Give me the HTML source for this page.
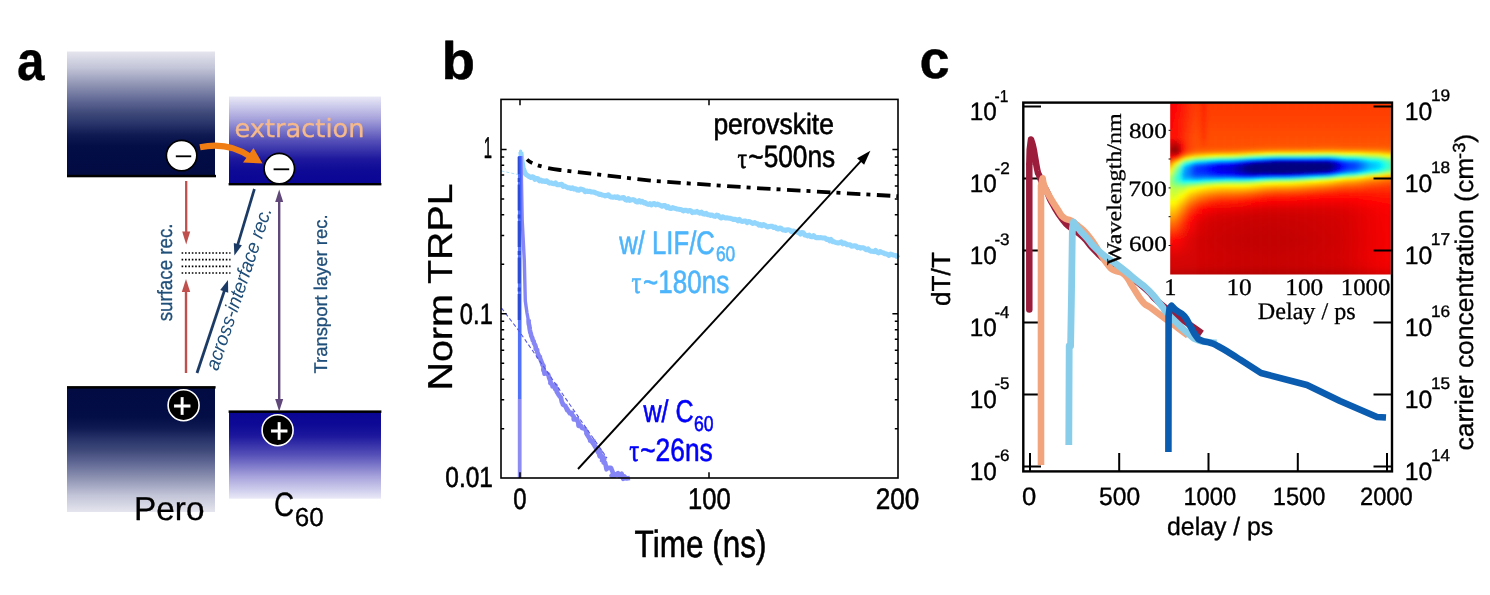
<!DOCTYPE html>
<html lang="en"><head><meta charset="utf-8"><title>Figure</title>
<style>html,body{margin:0;padding:0;background:#fff;overflow:hidden}svg{display:block;text-rendering:geometricPrecision;filter:blur(0.45px)}text{white-space:pre}</style></head>
<body><svg width="1490" height="595" viewBox="0 0 1490 595">
<defs><linearGradient id="gA" x1="0" y1="0" x2="0" y2="1">
<stop offset="0" stop-color="#e5e5ee"/><stop offset="0.13" stop-color="#c3c5d8"/><stop offset="0.27" stop-color="#8e93b3"/><stop offset="0.41" stop-color="#5a6290"/><stop offset="0.50" stop-color="#3d4878"/><stop offset="0.58" stop-color="#28346a"/><stop offset="0.67" stop-color="#0f1a52"/><stop offset="0.76" stop-color="#030d46"/><stop offset="1" stop-color="#020b42"/></linearGradient>
<linearGradient id="gB" x1="0" y1="0" x2="0" y2="1">
<stop offset="0" stop-color="#e9e9f7"/><stop offset="0.25" stop-color="#a8a4dc"/><stop offset="0.5" stop-color="#5651b8"/><stop offset="0.72" stop-color="#1c179c"/><stop offset="0.85" stop-color="#0e0a96"/><stop offset="1" stop-color="#0a0694"/></linearGradient>
<linearGradient id="gC" x1="0" y1="1" x2="0" y2="0">
<stop offset="0" stop-color="#e5e5ee"/><stop offset="0.13" stop-color="#c3c5d8"/><stop offset="0.27" stop-color="#8e93b3"/><stop offset="0.41" stop-color="#5a6290"/><stop offset="0.50" stop-color="#3d4878"/><stop offset="0.58" stop-color="#28346a"/><stop offset="0.67" stop-color="#0f1a52"/><stop offset="0.76" stop-color="#030d46"/><stop offset="1" stop-color="#020b42"/></linearGradient>
<linearGradient id="gD" x1="0" y1="1" x2="0" y2="0">
<stop offset="0" stop-color="#e9e9f7"/><stop offset="0.25" stop-color="#a8a4dc"/><stop offset="0.5" stop-color="#5651b8"/><stop offset="0.72" stop-color="#1c179c"/><stop offset="0.85" stop-color="#0e0a96"/><stop offset="1" stop-color="#0a0694"/></linearGradient><linearGradient id="h0" x1="0" y1="0" x2="0" y2="1"><stop offset="0.033" stop-color="#fa0000"/><stop offset="0.126" stop-color="#ff0400"/><stop offset="0.220" stop-color="#ff0900"/><stop offset="0.266" stop-color="#d30000"/><stop offset="0.285" stop-color="#c10000"/><stop offset="0.297" stop-color="#c50000"/><stop offset="0.308" stop-color="#d70000"/><stop offset="0.320" stop-color="#f10000"/><stop offset="0.332" stop-color="#ff1200"/><stop offset="0.343" stop-color="#ff3600"/><stop offset="0.355" stop-color="#ff5f00"/><stop offset="0.367" stop-color="#ff8800"/><stop offset="0.379" stop-color="#ffaf00"/><stop offset="0.390" stop-color="#ffd100"/><stop offset="0.402" stop-color="#fff000"/><stop offset="0.414" stop-color="#efff10"/><stop offset="0.425" stop-color="#d3ff2c"/><stop offset="0.437" stop-color="#bdff42"/><stop offset="0.449" stop-color="#aeff51"/><stop offset="0.460" stop-color="#a9ff56"/><stop offset="0.472" stop-color="#aeff51"/><stop offset="0.484" stop-color="#bbff44"/><stop offset="0.495" stop-color="#c6ff39"/><stop offset="0.507" stop-color="#ceff31"/><stop offset="0.519" stop-color="#d5ff2a"/><stop offset="0.530" stop-color="#dcff23"/><stop offset="0.542" stop-color="#e4ff1b"/><stop offset="0.554" stop-color="#eeff11"/><stop offset="0.575" stop-color="#fffc00"/><stop offset="0.612" stop-color="#ffd000"/><stop offset="0.650" stop-color="#ffa200"/><stop offset="0.687" stop-color="#ff7300"/><stop offset="0.780" stop-color="#ff0900"/><stop offset="0.874" stop-color="#da0000"/><stop offset="0.921" stop-color="#d50000"/><stop offset="0.967" stop-color="#be0000"/></linearGradient><linearGradient id="h1" x1="0" y1="0" x2="0" y2="1"><stop offset="0.033" stop-color="#fa0000"/><stop offset="0.126" stop-color="#ff0400"/><stop offset="0.220" stop-color="#ff0900"/><stop offset="0.266" stop-color="#d30000"/><stop offset="0.285" stop-color="#c10000"/><stop offset="0.297" stop-color="#c50000"/><stop offset="0.308" stop-color="#d70000"/><stop offset="0.320" stop-color="#f10000"/><stop offset="0.332" stop-color="#ff1200"/><stop offset="0.343" stop-color="#ff3600"/><stop offset="0.355" stop-color="#ff5f00"/><stop offset="0.367" stop-color="#ff8800"/><stop offset="0.379" stop-color="#ffaf00"/><stop offset="0.390" stop-color="#ffd100"/><stop offset="0.402" stop-color="#fff000"/><stop offset="0.414" stop-color="#efff10"/><stop offset="0.425" stop-color="#d3ff2c"/><stop offset="0.437" stop-color="#bdff42"/><stop offset="0.449" stop-color="#aeff51"/><stop offset="0.460" stop-color="#a9ff56"/><stop offset="0.472" stop-color="#aeff51"/><stop offset="0.484" stop-color="#bbff44"/><stop offset="0.495" stop-color="#c6ff39"/><stop offset="0.507" stop-color="#ceff31"/><stop offset="0.519" stop-color="#d5ff2a"/><stop offset="0.530" stop-color="#dcff23"/><stop offset="0.542" stop-color="#e4ff1b"/><stop offset="0.554" stop-color="#eeff11"/><stop offset="0.575" stop-color="#fffc00"/><stop offset="0.612" stop-color="#ffd000"/><stop offset="0.650" stop-color="#ffa200"/><stop offset="0.687" stop-color="#ff7300"/><stop offset="0.780" stop-color="#ff0900"/><stop offset="0.874" stop-color="#da0000"/><stop offset="0.921" stop-color="#d50000"/><stop offset="0.967" stop-color="#be0000"/></linearGradient><linearGradient id="h2" x1="0" y1="0" x2="0" y2="1"><stop offset="0.033" stop-color="#fb0000"/><stop offset="0.126" stop-color="#ff0500"/><stop offset="0.220" stop-color="#ff0800"/><stop offset="0.266" stop-color="#ba0000"/><stop offset="0.285" stop-color="#a00000"/><stop offset="0.297" stop-color="#a60000"/><stop offset="0.308" stop-color="#be0000"/><stop offset="0.320" stop-color="#e40000"/><stop offset="0.332" stop-color="#ff1200"/><stop offset="0.343" stop-color="#ff4300"/><stop offset="0.355" stop-color="#ff7600"/><stop offset="0.367" stop-color="#ffa700"/><stop offset="0.379" stop-color="#ffd200"/><stop offset="0.390" stop-color="#fff600"/><stop offset="0.402" stop-color="#e9ff16"/><stop offset="0.414" stop-color="#cbff34"/><stop offset="0.425" stop-color="#b1ff4e"/><stop offset="0.437" stop-color="#9cff63"/><stop offset="0.449" stop-color="#91ff6e"/><stop offset="0.460" stop-color="#91ff6e"/><stop offset="0.472" stop-color="#9bff64"/><stop offset="0.484" stop-color="#acff53"/><stop offset="0.495" stop-color="#bbff44"/><stop offset="0.507" stop-color="#c5ff3a"/><stop offset="0.519" stop-color="#cdff32"/><stop offset="0.530" stop-color="#d5ff2a"/><stop offset="0.542" stop-color="#deff21"/><stop offset="0.554" stop-color="#e9ff16"/><stop offset="0.575" stop-color="#ffff00"/><stop offset="0.612" stop-color="#ffd100"/><stop offset="0.650" stop-color="#ffa100"/><stop offset="0.687" stop-color="#ff7200"/><stop offset="0.780" stop-color="#ff0800"/><stop offset="0.874" stop-color="#d90000"/><stop offset="0.921" stop-color="#d50000"/><stop offset="0.967" stop-color="#be0000"/></linearGradient><linearGradient id="h3" x1="0" y1="0" x2="0" y2="1"><stop offset="0.033" stop-color="#fd0000"/><stop offset="0.126" stop-color="#ff0700"/><stop offset="0.220" stop-color="#ff0900"/><stop offset="0.266" stop-color="#aa0000"/><stop offset="0.285" stop-color="#8b0000"/><stop offset="0.297" stop-color="#930000"/><stop offset="0.308" stop-color="#b30000"/><stop offset="0.320" stop-color="#e50000"/><stop offset="0.332" stop-color="#ff2300"/><stop offset="0.343" stop-color="#ff6500"/><stop offset="0.355" stop-color="#ffa900"/><stop offset="0.367" stop-color="#ffe700"/><stop offset="0.379" stop-color="#e5ff1a"/><stop offset="0.390" stop-color="#bfff40"/><stop offset="0.402" stop-color="#a1ff5e"/><stop offset="0.414" stop-color="#85ff7a"/><stop offset="0.425" stop-color="#6eff91"/><stop offset="0.437" stop-color="#5dffa2"/><stop offset="0.449" stop-color="#59ffa6"/><stop offset="0.460" stop-color="#63ff9c"/><stop offset="0.472" stop-color="#79ff86"/><stop offset="0.484" stop-color="#94ff6b"/><stop offset="0.495" stop-color="#a9ff56"/><stop offset="0.507" stop-color="#b7ff48"/><stop offset="0.519" stop-color="#c1ff3e"/><stop offset="0.530" stop-color="#cbff34"/><stop offset="0.542" stop-color="#d7ff28"/><stop offset="0.554" stop-color="#e4ff1b"/><stop offset="0.575" stop-color="#feff01"/><stop offset="0.612" stop-color="#ffcf00"/><stop offset="0.650" stop-color="#ff9d00"/><stop offset="0.687" stop-color="#ff6d00"/><stop offset="0.780" stop-color="#ff0500"/><stop offset="0.874" stop-color="#d90000"/><stop offset="0.921" stop-color="#d40000"/><stop offset="0.967" stop-color="#be0000"/></linearGradient><linearGradient id="h4" x1="0" y1="0" x2="0" y2="1"><stop offset="0.033" stop-color="#ff0200"/><stop offset="0.126" stop-color="#ff0b00"/><stop offset="0.220" stop-color="#ff0c00"/><stop offset="0.266" stop-color="#ab0000"/><stop offset="0.285" stop-color="#8c0000"/><stop offset="0.297" stop-color="#950000"/><stop offset="0.308" stop-color="#b80000"/><stop offset="0.320" stop-color="#f00000"/><stop offset="0.332" stop-color="#ff3600"/><stop offset="0.343" stop-color="#ff8300"/><stop offset="0.355" stop-color="#ffd100"/><stop offset="0.367" stop-color="#e7ff18"/><stop offset="0.379" stop-color="#b1ff4e"/><stop offset="0.390" stop-color="#8bff74"/><stop offset="0.402" stop-color="#6fff90"/><stop offset="0.414" stop-color="#56ffa9"/><stop offset="0.425" stop-color="#42ffbd"/><stop offset="0.437" stop-color="#36ffc9"/><stop offset="0.449" stop-color="#39ffc6"/><stop offset="0.460" stop-color="#4bffb4"/><stop offset="0.472" stop-color="#69ff96"/><stop offset="0.484" stop-color="#8cff73"/><stop offset="0.495" stop-color="#a6ff59"/><stop offset="0.507" stop-color="#b7ff48"/><stop offset="0.519" stop-color="#c3ff3c"/><stop offset="0.530" stop-color="#cfff30"/><stop offset="0.542" stop-color="#ddff22"/><stop offset="0.554" stop-color="#ebff14"/><stop offset="0.575" stop-color="#fff700"/><stop offset="0.612" stop-color="#ffc300"/><stop offset="0.650" stop-color="#ff9100"/><stop offset="0.687" stop-color="#ff6300"/><stop offset="0.780" stop-color="#ff0200"/><stop offset="0.874" stop-color="#d80000"/><stop offset="0.921" stop-color="#d40000"/><stop offset="0.967" stop-color="#bd0000"/></linearGradient><linearGradient id="h5" x1="0" y1="0" x2="0" y2="1"><stop offset="0.033" stop-color="#ff0700"/><stop offset="0.126" stop-color="#ff0f00"/><stop offset="0.220" stop-color="#ff1200"/><stop offset="0.266" stop-color="#be0000"/><stop offset="0.285" stop-color="#a40000"/><stop offset="0.297" stop-color="#ad0000"/><stop offset="0.308" stop-color="#ce0000"/><stop offset="0.320" stop-color="#ff0500"/><stop offset="0.332" stop-color="#ff4900"/><stop offset="0.343" stop-color="#ff9600"/><stop offset="0.355" stop-color="#ffe500"/><stop offset="0.367" stop-color="#d3ff2c"/><stop offset="0.379" stop-color="#9dff62"/><stop offset="0.390" stop-color="#7aff85"/><stop offset="0.402" stop-color="#61ff9e"/><stop offset="0.414" stop-color="#4cffb3"/><stop offset="0.425" stop-color="#3bffc4"/><stop offset="0.437" stop-color="#34ffcb"/><stop offset="0.449" stop-color="#3affc5"/><stop offset="0.460" stop-color="#51ffae"/><stop offset="0.472" stop-color="#74ff8b"/><stop offset="0.484" stop-color="#9aff65"/><stop offset="0.495" stop-color="#b6ff49"/><stop offset="0.507" stop-color="#c8ff37"/><stop offset="0.519" stop-color="#d6ff29"/><stop offset="0.530" stop-color="#e3ff1c"/><stop offset="0.542" stop-color="#f1ff0e"/><stop offset="0.554" stop-color="#fffe00"/><stop offset="0.575" stop-color="#ffe200"/><stop offset="0.612" stop-color="#ffaf00"/><stop offset="0.650" stop-color="#ff7f00"/><stop offset="0.687" stop-color="#ff5500"/><stop offset="0.780" stop-color="#fc0000"/><stop offset="0.874" stop-color="#d80000"/><stop offset="0.921" stop-color="#d40000"/><stop offset="0.967" stop-color="#bd0000"/></linearGradient><linearGradient id="h6" x1="0" y1="0" x2="0" y2="1"><stop offset="0.033" stop-color="#ff0c00"/><stop offset="0.126" stop-color="#ff1500"/><stop offset="0.220" stop-color="#ff1a00"/><stop offset="0.266" stop-color="#dd0000"/><stop offset="0.285" stop-color="#cb0000"/><stop offset="0.297" stop-color="#d50000"/><stop offset="0.308" stop-color="#f40000"/><stop offset="0.320" stop-color="#ff2a00"/><stop offset="0.332" stop-color="#ff7000"/><stop offset="0.343" stop-color="#ffc400"/><stop offset="0.355" stop-color="#e4ff1b"/><stop offset="0.367" stop-color="#97ff68"/><stop offset="0.379" stop-color="#5effa1"/><stop offset="0.390" stop-color="#3bffc4"/><stop offset="0.402" stop-color="#26ffd9"/><stop offset="0.414" stop-color="#15ffea"/><stop offset="0.425" stop-color="#09fff6"/><stop offset="0.437" stop-color="#08fff7"/><stop offset="0.449" stop-color="#17ffe8"/><stop offset="0.460" stop-color="#39ffc6"/><stop offset="0.472" stop-color="#67ff98"/><stop offset="0.484" stop-color="#95ff6a"/><stop offset="0.495" stop-color="#b8ff47"/><stop offset="0.507" stop-color="#cdff32"/><stop offset="0.519" stop-color="#ddff22"/><stop offset="0.530" stop-color="#edff12"/><stop offset="0.542" stop-color="#fdff02"/><stop offset="0.554" stop-color="#fff000"/><stop offset="0.575" stop-color="#ffd200"/><stop offset="0.612" stop-color="#ff9d00"/><stop offset="0.650" stop-color="#ff6e00"/><stop offset="0.687" stop-color="#ff4600"/><stop offset="0.780" stop-color="#f60000"/><stop offset="0.874" stop-color="#d80000"/><stop offset="0.921" stop-color="#d30000"/><stop offset="0.967" stop-color="#bd0000"/></linearGradient><linearGradient id="h7" x1="0" y1="0" x2="0" y2="1"><stop offset="0.033" stop-color="#ff1200"/><stop offset="0.126" stop-color="#ff1b00"/><stop offset="0.220" stop-color="#ff2200"/><stop offset="0.266" stop-color="#fd0000"/><stop offset="0.285" stop-color="#f40000"/><stop offset="0.297" stop-color="#ff0000"/><stop offset="0.308" stop-color="#ff1f00"/><stop offset="0.320" stop-color="#ff5400"/><stop offset="0.332" stop-color="#ff9f00"/><stop offset="0.343" stop-color="#fffc00"/><stop offset="0.355" stop-color="#a0ff5f"/><stop offset="0.367" stop-color="#4affb5"/><stop offset="0.379" stop-color="#0cfff3"/><stop offset="0.390" stop-color="#00e9ff"/><stop offset="0.402" stop-color="#00d8ff"/><stop offset="0.414" stop-color="#00cbff"/><stop offset="0.425" stop-color="#00c5ff"/><stop offset="0.437" stop-color="#00cbff"/><stop offset="0.449" stop-color="#00e5ff"/><stop offset="0.460" stop-color="#14ffeb"/><stop offset="0.472" stop-color="#50ffaf"/><stop offset="0.484" stop-color="#8aff75"/><stop offset="0.495" stop-color="#b3ff4c"/><stop offset="0.507" stop-color="#cdff32"/><stop offset="0.519" stop-color="#e0ff1f"/><stop offset="0.530" stop-color="#f3ff0c"/><stop offset="0.542" stop-color="#fff900"/><stop offset="0.554" stop-color="#ffe600"/><stop offset="0.575" stop-color="#ffc400"/><stop offset="0.612" stop-color="#ff8b00"/><stop offset="0.650" stop-color="#ff5d00"/><stop offset="0.687" stop-color="#ff3700"/><stop offset="0.780" stop-color="#f10000"/><stop offset="0.874" stop-color="#d70000"/><stop offset="0.921" stop-color="#d30000"/><stop offset="0.967" stop-color="#bd0000"/></linearGradient><linearGradient id="h8" x1="0" y1="0" x2="0" y2="1"><stop offset="0.033" stop-color="#ff1800"/><stop offset="0.126" stop-color="#ff2100"/><stop offset="0.220" stop-color="#ff2a00"/><stop offset="0.266" stop-color="#ff1800"/><stop offset="0.285" stop-color="#ff1600"/><stop offset="0.297" stop-color="#ff2300"/><stop offset="0.308" stop-color="#ff4100"/><stop offset="0.320" stop-color="#ff7700"/><stop offset="0.332" stop-color="#ffc700"/><stop offset="0.343" stop-color="#d2ff2d"/><stop offset="0.355" stop-color="#68ff97"/><stop offset="0.367" stop-color="#0bfff4"/><stop offset="0.379" stop-color="#00c9ff"/><stop offset="0.390" stop-color="#00a9ff"/><stop offset="0.402" stop-color="#009bff"/><stop offset="0.414" stop-color="#0093ff"/><stop offset="0.425" stop-color="#0091ff"/><stop offset="0.437" stop-color="#009fff"/><stop offset="0.449" stop-color="#00c1ff"/><stop offset="0.460" stop-color="#00fbff"/><stop offset="0.472" stop-color="#43ffbc"/><stop offset="0.484" stop-color="#85ff7a"/><stop offset="0.495" stop-color="#b4ff4b"/><stop offset="0.507" stop-color="#d1ff2e"/><stop offset="0.519" stop-color="#e7ff18"/><stop offset="0.530" stop-color="#fcff03"/><stop offset="0.542" stop-color="#ffee00"/><stop offset="0.554" stop-color="#ffd900"/><stop offset="0.575" stop-color="#ffb400"/><stop offset="0.612" stop-color="#ff7a00"/><stop offset="0.650" stop-color="#ff4c00"/><stop offset="0.687" stop-color="#ff2900"/><stop offset="0.780" stop-color="#eb0000"/><stop offset="0.874" stop-color="#d70000"/><stop offset="0.921" stop-color="#d30000"/><stop offset="0.967" stop-color="#bc0000"/></linearGradient><linearGradient id="h9" x1="0" y1="0" x2="0" y2="1"><stop offset="0.033" stop-color="#ff1f00"/><stop offset="0.126" stop-color="#ff2800"/><stop offset="0.220" stop-color="#ff3200"/><stop offset="0.266" stop-color="#ff2a00"/><stop offset="0.285" stop-color="#ff2d00"/><stop offset="0.297" stop-color="#ff3a00"/><stop offset="0.308" stop-color="#ff5700"/><stop offset="0.320" stop-color="#ff8d00"/><stop offset="0.332" stop-color="#ffdc00"/><stop offset="0.343" stop-color="#bcff43"/><stop offset="0.355" stop-color="#51ffae"/><stop offset="0.367" stop-color="#00f4ff"/><stop offset="0.379" stop-color="#00b6ff"/><stop offset="0.390" stop-color="#0098ff"/><stop offset="0.402" stop-color="#008fff"/><stop offset="0.414" stop-color="#0089ff"/><stop offset="0.425" stop-color="#008cff"/><stop offset="0.437" stop-color="#009eff"/><stop offset="0.449" stop-color="#00c6ff"/><stop offset="0.460" stop-color="#06fff9"/><stop offset="0.472" stop-color="#51ffae"/><stop offset="0.484" stop-color="#95ff6a"/><stop offset="0.495" stop-color="#c5ff3a"/><stop offset="0.507" stop-color="#e4ff1b"/><stop offset="0.519" stop-color="#fbff04"/><stop offset="0.530" stop-color="#ffee00"/><stop offset="0.542" stop-color="#ffd900"/><stop offset="0.554" stop-color="#ffc300"/><stop offset="0.575" stop-color="#ff9e00"/><stop offset="0.612" stop-color="#ff6400"/><stop offset="0.650" stop-color="#ff3900"/><stop offset="0.687" stop-color="#ff1a00"/><stop offset="0.780" stop-color="#e60000"/><stop offset="0.874" stop-color="#d60000"/><stop offset="0.921" stop-color="#d20000"/><stop offset="0.967" stop-color="#bc0000"/></linearGradient><linearGradient id="h10" x1="0" y1="0" x2="0" y2="1"><stop offset="0.033" stop-color="#ff2500"/><stop offset="0.126" stop-color="#ff2e00"/><stop offset="0.220" stop-color="#ff3900"/><stop offset="0.266" stop-color="#ff3700"/><stop offset="0.285" stop-color="#ff3c00"/><stop offset="0.297" stop-color="#ff4900"/><stop offset="0.308" stop-color="#ff6600"/><stop offset="0.320" stop-color="#ff9c00"/><stop offset="0.332" stop-color="#ffee00"/><stop offset="0.343" stop-color="#aaff55"/><stop offset="0.355" stop-color="#3effc1"/><stop offset="0.367" stop-color="#00e1ff"/><stop offset="0.379" stop-color="#00a6ff"/><stop offset="0.390" stop-color="#008cff"/><stop offset="0.402" stop-color="#0085ff"/><stop offset="0.414" stop-color="#0083ff"/><stop offset="0.425" stop-color="#0089ff"/><stop offset="0.437" stop-color="#009fff"/><stop offset="0.449" stop-color="#00ccff"/><stop offset="0.460" stop-color="#10ffef"/><stop offset="0.472" stop-color="#5fffa0"/><stop offset="0.484" stop-color="#a5ff5a"/><stop offset="0.495" stop-color="#d6ff29"/><stop offset="0.507" stop-color="#f5ff0a"/><stop offset="0.519" stop-color="#fff100"/><stop offset="0.530" stop-color="#ffdb00"/><stop offset="0.542" stop-color="#ffc500"/><stop offset="0.554" stop-color="#ffaf00"/><stop offset="0.575" stop-color="#ff8a00"/><stop offset="0.612" stop-color="#ff5100"/><stop offset="0.650" stop-color="#ff2800"/><stop offset="0.687" stop-color="#ff0d00"/><stop offset="0.780" stop-color="#e20000"/><stop offset="0.874" stop-color="#d60000"/><stop offset="0.921" stop-color="#d20000"/><stop offset="0.967" stop-color="#bc0000"/></linearGradient><linearGradient id="h11" x1="0" y1="0" x2="0" y2="1"><stop offset="0.033" stop-color="#ff2b00"/><stop offset="0.126" stop-color="#ff3300"/><stop offset="0.220" stop-color="#ff3f00"/><stop offset="0.266" stop-color="#ff3f00"/><stop offset="0.285" stop-color="#ff4500"/><stop offset="0.297" stop-color="#ff5300"/><stop offset="0.308" stop-color="#ff7300"/><stop offset="0.320" stop-color="#ffac00"/><stop offset="0.332" stop-color="#fdff02"/><stop offset="0.343" stop-color="#92ff6d"/><stop offset="0.355" stop-color="#23ffdc"/><stop offset="0.367" stop-color="#00c5ff"/><stop offset="0.379" stop-color="#008aff"/><stop offset="0.390" stop-color="#0072ff"/><stop offset="0.402" stop-color="#006eff"/><stop offset="0.414" stop-color="#006fff"/><stop offset="0.425" stop-color="#0079ff"/><stop offset="0.437" stop-color="#0093ff"/><stop offset="0.449" stop-color="#00c5ff"/><stop offset="0.460" stop-color="#0ffff0"/><stop offset="0.472" stop-color="#63ff9c"/><stop offset="0.484" stop-color="#acff53"/><stop offset="0.495" stop-color="#dfff20"/><stop offset="0.507" stop-color="#ffff00"/><stop offset="0.519" stop-color="#ffe600"/><stop offset="0.530" stop-color="#ffce00"/><stop offset="0.542" stop-color="#ffb700"/><stop offset="0.554" stop-color="#ffa100"/><stop offset="0.575" stop-color="#ff7b00"/><stop offset="0.612" stop-color="#ff4200"/><stop offset="0.650" stop-color="#ff1a00"/><stop offset="0.687" stop-color="#ff0100"/><stop offset="0.780" stop-color="#de0000"/><stop offset="0.874" stop-color="#d50000"/><stop offset="0.921" stop-color="#d20000"/><stop offset="0.967" stop-color="#bc0000"/></linearGradient><linearGradient id="h12" x1="0" y1="0" x2="0" y2="1"><stop offset="0.033" stop-color="#ff3000"/><stop offset="0.126" stop-color="#ff3900"/><stop offset="0.220" stop-color="#ff4400"/><stop offset="0.266" stop-color="#ff4500"/><stop offset="0.285" stop-color="#ff4c00"/><stop offset="0.297" stop-color="#ff5b00"/><stop offset="0.308" stop-color="#ff7d00"/><stop offset="0.320" stop-color="#ffba00"/><stop offset="0.332" stop-color="#e9ff16"/><stop offset="0.343" stop-color="#78ff87"/><stop offset="0.355" stop-color="#05fffa"/><stop offset="0.367" stop-color="#00a4ff"/><stop offset="0.379" stop-color="#0069ff"/><stop offset="0.390" stop-color="#0054ff"/><stop offset="0.402" stop-color="#0052ff"/><stop offset="0.414" stop-color="#0055ff"/><stop offset="0.425" stop-color="#0063ff"/><stop offset="0.437" stop-color="#0081ff"/><stop offset="0.449" stop-color="#00b9ff"/><stop offset="0.460" stop-color="#09fff6"/><stop offset="0.472" stop-color="#62ff9d"/><stop offset="0.484" stop-color="#afff50"/><stop offset="0.495" stop-color="#e4ff1b"/><stop offset="0.507" stop-color="#fff900"/><stop offset="0.519" stop-color="#ffde00"/><stop offset="0.530" stop-color="#ffc600"/><stop offset="0.542" stop-color="#ffae00"/><stop offset="0.554" stop-color="#ff9600"/><stop offset="0.575" stop-color="#ff6f00"/><stop offset="0.612" stop-color="#ff3500"/><stop offset="0.650" stop-color="#ff0f00"/><stop offset="0.687" stop-color="#f70000"/><stop offset="0.780" stop-color="#da0000"/><stop offset="0.874" stop-color="#d50000"/><stop offset="0.921" stop-color="#d10000"/><stop offset="0.967" stop-color="#bb0000"/></linearGradient><linearGradient id="h13" x1="0" y1="0" x2="0" y2="1"><stop offset="0.033" stop-color="#ff3400"/><stop offset="0.126" stop-color="#ff3d00"/><stop offset="0.220" stop-color="#ff4800"/><stop offset="0.266" stop-color="#ff4900"/><stop offset="0.285" stop-color="#ff5100"/><stop offset="0.297" stop-color="#ff6200"/><stop offset="0.308" stop-color="#ff8600"/><stop offset="0.320" stop-color="#ffc700"/><stop offset="0.332" stop-color="#d7ff28"/><stop offset="0.343" stop-color="#61ff9e"/><stop offset="0.355" stop-color="#00e9ff"/><stop offset="0.367" stop-color="#0088ff"/><stop offset="0.379" stop-color="#004dff"/><stop offset="0.390" stop-color="#003aff"/><stop offset="0.402" stop-color="#003aff"/><stop offset="0.414" stop-color="#003fff"/><stop offset="0.425" stop-color="#004fff"/><stop offset="0.437" stop-color="#0072ff"/><stop offset="0.449" stop-color="#00aeff"/><stop offset="0.460" stop-color="#04fffb"/><stop offset="0.472" stop-color="#62ff9d"/><stop offset="0.484" stop-color="#b1ff4e"/><stop offset="0.495" stop-color="#e7ff18"/><stop offset="0.507" stop-color="#fff400"/><stop offset="0.519" stop-color="#ffd800"/><stop offset="0.530" stop-color="#ffbe00"/><stop offset="0.542" stop-color="#ffa500"/><stop offset="0.554" stop-color="#ff8d00"/><stop offset="0.575" stop-color="#ff6500"/><stop offset="0.612" stop-color="#ff2b00"/><stop offset="0.650" stop-color="#ff0600"/><stop offset="0.687" stop-color="#f00000"/><stop offset="0.780" stop-color="#d80000"/><stop offset="0.874" stop-color="#d40000"/><stop offset="0.921" stop-color="#d10000"/><stop offset="0.967" stop-color="#bb0000"/></linearGradient><linearGradient id="h14" x1="0" y1="0" x2="0" y2="1"><stop offset="0.033" stop-color="#ff3700"/><stop offset="0.126" stop-color="#ff3f00"/><stop offset="0.220" stop-color="#ff4b00"/><stop offset="0.266" stop-color="#ff4c00"/><stop offset="0.285" stop-color="#ff5500"/><stop offset="0.297" stop-color="#ff6600"/><stop offset="0.308" stop-color="#ff8c00"/><stop offset="0.320" stop-color="#ffd000"/><stop offset="0.332" stop-color="#cbff34"/><stop offset="0.343" stop-color="#52ffad"/><stop offset="0.355" stop-color="#00d8ff"/><stop offset="0.367" stop-color="#0077ff"/><stop offset="0.379" stop-color="#003eff"/><stop offset="0.390" stop-color="#002cff"/><stop offset="0.402" stop-color="#002dff"/><stop offset="0.414" stop-color="#0034ff"/><stop offset="0.425" stop-color="#0047ff"/><stop offset="0.437" stop-color="#006cff"/><stop offset="0.449" stop-color="#00adff"/><stop offset="0.460" stop-color="#07fff8"/><stop offset="0.472" stop-color="#67ff98"/><stop offset="0.484" stop-color="#b8ff47"/><stop offset="0.495" stop-color="#eeff11"/><stop offset="0.507" stop-color="#ffed00"/><stop offset="0.519" stop-color="#ffd100"/><stop offset="0.530" stop-color="#ffb600"/><stop offset="0.542" stop-color="#ff9c00"/><stop offset="0.554" stop-color="#ff8400"/><stop offset="0.575" stop-color="#ff5b00"/><stop offset="0.612" stop-color="#ff2100"/><stop offset="0.650" stop-color="#fc0000"/><stop offset="0.687" stop-color="#e90000"/><stop offset="0.780" stop-color="#d50000"/><stop offset="0.874" stop-color="#d40000"/><stop offset="0.921" stop-color="#d10000"/><stop offset="0.967" stop-color="#bb0000"/></linearGradient><linearGradient id="h15" x1="0" y1="0" x2="0" y2="1"><stop offset="0.033" stop-color="#ff3500"/><stop offset="0.126" stop-color="#ff3e00"/><stop offset="0.220" stop-color="#ff4900"/><stop offset="0.266" stop-color="#ff4d00"/><stop offset="0.285" stop-color="#ff5700"/><stop offset="0.297" stop-color="#ff6a00"/><stop offset="0.308" stop-color="#ff9200"/><stop offset="0.320" stop-color="#ffd800"/><stop offset="0.332" stop-color="#c0ff3f"/><stop offset="0.343" stop-color="#46ffb9"/><stop offset="0.355" stop-color="#00cdff"/><stop offset="0.367" stop-color="#006fff"/><stop offset="0.379" stop-color="#0039ff"/><stop offset="0.390" stop-color="#002bff"/><stop offset="0.402" stop-color="#002dff"/><stop offset="0.414" stop-color="#0036ff"/><stop offset="0.425" stop-color="#004bff"/><stop offset="0.437" stop-color="#0075ff"/><stop offset="0.449" stop-color="#00baff"/><stop offset="0.460" stop-color="#18ffe7"/><stop offset="0.472" stop-color="#79ff86"/><stop offset="0.484" stop-color="#c9ff36"/><stop offset="0.495" stop-color="#fdff02"/><stop offset="0.507" stop-color="#ffde00"/><stop offset="0.519" stop-color="#ffc200"/><stop offset="0.530" stop-color="#ffa600"/><stop offset="0.542" stop-color="#ff8c00"/><stop offset="0.554" stop-color="#ff7400"/><stop offset="0.575" stop-color="#ff4b00"/><stop offset="0.612" stop-color="#ff1400"/><stop offset="0.650" stop-color="#f20000"/><stop offset="0.687" stop-color="#e10000"/><stop offset="0.780" stop-color="#d20000"/><stop offset="0.874" stop-color="#d30000"/><stop offset="0.921" stop-color="#d00000"/><stop offset="0.967" stop-color="#ba0000"/></linearGradient><linearGradient id="h16" x1="0" y1="0" x2="0" y2="1"><stop offset="0.033" stop-color="#ff1c00"/><stop offset="0.126" stop-color="#ff2400"/><stop offset="0.220" stop-color="#ff2f00"/><stop offset="0.266" stop-color="#ff4500"/><stop offset="0.285" stop-color="#ff5700"/><stop offset="0.297" stop-color="#ff6d00"/><stop offset="0.308" stop-color="#ff9900"/><stop offset="0.320" stop-color="#ffe300"/><stop offset="0.332" stop-color="#b1ff4e"/><stop offset="0.343" stop-color="#34ffcb"/><stop offset="0.355" stop-color="#00baff"/><stop offset="0.367" stop-color="#005fff"/><stop offset="0.379" stop-color="#002dff"/><stop offset="0.390" stop-color="#0022ff"/><stop offset="0.402" stop-color="#0026ff"/><stop offset="0.414" stop-color="#0031ff"/><stop offset="0.425" stop-color="#0049ff"/><stop offset="0.437" stop-color="#0079ff"/><stop offset="0.449" stop-color="#00c5ff"/><stop offset="0.460" stop-color="#28ffd7"/><stop offset="0.472" stop-color="#8cff73"/><stop offset="0.484" stop-color="#daff25"/><stop offset="0.495" stop-color="#fff200"/><stop offset="0.507" stop-color="#ffd000"/><stop offset="0.519" stop-color="#ffb300"/><stop offset="0.530" stop-color="#ff9700"/><stop offset="0.542" stop-color="#ff7d00"/><stop offset="0.554" stop-color="#ff6400"/><stop offset="0.575" stop-color="#ff3c00"/><stop offset="0.612" stop-color="#ff0600"/><stop offset="0.650" stop-color="#e80000"/><stop offset="0.687" stop-color="#db0000"/><stop offset="0.780" stop-color="#d00000"/><stop offset="0.874" stop-color="#d20000"/><stop offset="0.921" stop-color="#cf0000"/><stop offset="0.967" stop-color="#ba0000"/></linearGradient><linearGradient id="h17" x1="0" y1="0" x2="0" y2="1"><stop offset="0.033" stop-color="#ff3800"/><stop offset="0.126" stop-color="#ff4000"/><stop offset="0.220" stop-color="#ff4c00"/><stop offset="0.266" stop-color="#ff4e00"/><stop offset="0.285" stop-color="#ff5a00"/><stop offset="0.297" stop-color="#ff7100"/><stop offset="0.308" stop-color="#ffa000"/><stop offset="0.320" stop-color="#ffef00"/><stop offset="0.332" stop-color="#9fff60"/><stop offset="0.343" stop-color="#1fffe0"/><stop offset="0.355" stop-color="#00a4ff"/><stop offset="0.367" stop-color="#0049ff"/><stop offset="0.379" stop-color="#001aff"/><stop offset="0.390" stop-color="#0011ff"/><stop offset="0.402" stop-color="#0016ff"/><stop offset="0.414" stop-color="#0023ff"/><stop offset="0.425" stop-color="#0040ff"/><stop offset="0.437" stop-color="#0076ff"/><stop offset="0.449" stop-color="#00caff"/><stop offset="0.460" stop-color="#34ffcb"/><stop offset="0.472" stop-color="#9aff65"/><stop offset="0.484" stop-color="#e6ff19"/><stop offset="0.495" stop-color="#ffe800"/><stop offset="0.507" stop-color="#ffc600"/><stop offset="0.519" stop-color="#ffa800"/><stop offset="0.530" stop-color="#ff8b00"/><stop offset="0.542" stop-color="#ff7000"/><stop offset="0.554" stop-color="#ff5700"/><stop offset="0.575" stop-color="#ff3000"/><stop offset="0.612" stop-color="#fc0000"/><stop offset="0.650" stop-color="#e10000"/><stop offset="0.687" stop-color="#d60000"/><stop offset="0.780" stop-color="#ce0000"/><stop offset="0.874" stop-color="#d10000"/><stop offset="0.921" stop-color="#ce0000"/><stop offset="0.967" stop-color="#b90000"/></linearGradient><linearGradient id="h18" x1="0" y1="0" x2="0" y2="1"><stop offset="0.033" stop-color="#ff3800"/><stop offset="0.126" stop-color="#ff4100"/><stop offset="0.220" stop-color="#ff4c00"/><stop offset="0.266" stop-color="#ff4f00"/><stop offset="0.285" stop-color="#ff5b00"/><stop offset="0.297" stop-color="#ff7500"/><stop offset="0.308" stop-color="#ffa700"/><stop offset="0.320" stop-color="#fffc00"/><stop offset="0.332" stop-color="#8eff71"/><stop offset="0.343" stop-color="#09fff6"/><stop offset="0.355" stop-color="#008dff"/><stop offset="0.367" stop-color="#0033ff"/><stop offset="0.379" stop-color="#0006ff"/><stop offset="0.390" stop-color="#0000fe"/><stop offset="0.402" stop-color="#0004ff"/><stop offset="0.414" stop-color="#0013ff"/><stop offset="0.425" stop-color="#0034ff"/><stop offset="0.437" stop-color="#0071ff"/><stop offset="0.449" stop-color="#00ceff"/><stop offset="0.460" stop-color="#3fffc0"/><stop offset="0.472" stop-color="#a7ff58"/><stop offset="0.484" stop-color="#f0ff0f"/><stop offset="0.495" stop-color="#ffe000"/><stop offset="0.507" stop-color="#ffbd00"/><stop offset="0.519" stop-color="#ff9f00"/><stop offset="0.530" stop-color="#ff8100"/><stop offset="0.542" stop-color="#ff6600"/><stop offset="0.554" stop-color="#ff4d00"/><stop offset="0.575" stop-color="#ff2600"/><stop offset="0.612" stop-color="#f50000"/><stop offset="0.650" stop-color="#dd0000"/><stop offset="0.687" stop-color="#d30000"/><stop offset="0.780" stop-color="#cc0000"/><stop offset="0.874" stop-color="#d00000"/><stop offset="0.921" stop-color="#cd0000"/><stop offset="0.967" stop-color="#b90000"/></linearGradient><linearGradient id="h19" x1="0" y1="0" x2="0" y2="1"><stop offset="0.033" stop-color="#ff3800"/><stop offset="0.126" stop-color="#ff4100"/><stop offset="0.220" stop-color="#ff4c00"/><stop offset="0.266" stop-color="#ff4f00"/><stop offset="0.285" stop-color="#ff5d00"/><stop offset="0.297" stop-color="#ff7800"/><stop offset="0.308" stop-color="#ffae00"/><stop offset="0.320" stop-color="#f8ff07"/><stop offset="0.332" stop-color="#7fff80"/><stop offset="0.343" stop-color="#00f5ff"/><stop offset="0.355" stop-color="#0078ff"/><stop offset="0.367" stop-color="#001fff"/><stop offset="0.379" stop-color="#0000f2"/><stop offset="0.390" stop-color="#0000ec"/><stop offset="0.402" stop-color="#0000f3"/><stop offset="0.414" stop-color="#0005ff"/><stop offset="0.425" stop-color="#002aff"/><stop offset="0.437" stop-color="#006eff"/><stop offset="0.449" stop-color="#00d3ff"/><stop offset="0.460" stop-color="#4affb5"/><stop offset="0.472" stop-color="#b2ff4d"/><stop offset="0.484" stop-color="#f8ff07"/><stop offset="0.495" stop-color="#ffd900"/><stop offset="0.507" stop-color="#ffb600"/><stop offset="0.519" stop-color="#ff9700"/><stop offset="0.530" stop-color="#ff7900"/><stop offset="0.542" stop-color="#ff5e00"/><stop offset="0.554" stop-color="#ff4500"/><stop offset="0.575" stop-color="#ff1f00"/><stop offset="0.612" stop-color="#f00000"/><stop offset="0.650" stop-color="#d90000"/><stop offset="0.687" stop-color="#d10000"/><stop offset="0.780" stop-color="#cb0000"/><stop offset="0.874" stop-color="#cf0000"/><stop offset="0.921" stop-color="#cd0000"/><stop offset="0.967" stop-color="#b80000"/></linearGradient><linearGradient id="h20" x1="0" y1="0" x2="0" y2="1"><stop offset="0.033" stop-color="#ff3800"/><stop offset="0.126" stop-color="#ff4100"/><stop offset="0.220" stop-color="#ff4c00"/><stop offset="0.266" stop-color="#ff4f00"/><stop offset="0.285" stop-color="#ff5e00"/><stop offset="0.297" stop-color="#ff7a00"/><stop offset="0.308" stop-color="#ffb200"/><stop offset="0.320" stop-color="#f1ff0e"/><stop offset="0.332" stop-color="#75ff8a"/><stop offset="0.343" stop-color="#00e9ff"/><stop offset="0.355" stop-color="#006bff"/><stop offset="0.367" stop-color="#0011ff"/><stop offset="0.379" stop-color="#0000e6"/><stop offset="0.390" stop-color="#0000e0"/><stop offset="0.402" stop-color="#0000e7"/><stop offset="0.414" stop-color="#0000fa"/><stop offset="0.425" stop-color="#0024ff"/><stop offset="0.437" stop-color="#006dff"/><stop offset="0.449" stop-color="#00d9ff"/><stop offset="0.460" stop-color="#53ffac"/><stop offset="0.472" stop-color="#baff45"/><stop offset="0.484" stop-color="#feff01"/><stop offset="0.495" stop-color="#ffd400"/><stop offset="0.507" stop-color="#ffb200"/><stop offset="0.519" stop-color="#ff9200"/><stop offset="0.530" stop-color="#ff7400"/><stop offset="0.542" stop-color="#ff5800"/><stop offset="0.554" stop-color="#ff4000"/><stop offset="0.575" stop-color="#ff1a00"/><stop offset="0.612" stop-color="#ec0000"/><stop offset="0.650" stop-color="#d70000"/><stop offset="0.687" stop-color="#cf0000"/><stop offset="0.780" stop-color="#ca0000"/><stop offset="0.874" stop-color="#ce0000"/><stop offset="0.921" stop-color="#cc0000"/><stop offset="0.967" stop-color="#b70000"/></linearGradient><linearGradient id="h21" x1="0" y1="0" x2="0" y2="1"><stop offset="0.033" stop-color="#ff3800"/><stop offset="0.126" stop-color="#ff4100"/><stop offset="0.220" stop-color="#ff4c00"/><stop offset="0.266" stop-color="#ff4f00"/><stop offset="0.285" stop-color="#ff5e00"/><stop offset="0.297" stop-color="#ff7b00"/><stop offset="0.308" stop-color="#ffb300"/><stop offset="0.320" stop-color="#efff10"/><stop offset="0.332" stop-color="#72ff8d"/><stop offset="0.343" stop-color="#00e5ff"/><stop offset="0.355" stop-color="#0067ff"/><stop offset="0.367" stop-color="#000dff"/><stop offset="0.379" stop-color="#0000e2"/><stop offset="0.390" stop-color="#0000dd"/><stop offset="0.402" stop-color="#0000e4"/><stop offset="0.414" stop-color="#0000f7"/><stop offset="0.425" stop-color="#0023ff"/><stop offset="0.437" stop-color="#0070ff"/><stop offset="0.449" stop-color="#00dfff"/><stop offset="0.460" stop-color="#5bffa4"/><stop offset="0.472" stop-color="#c0ff3f"/><stop offset="0.484" stop-color="#fffd00"/><stop offset="0.495" stop-color="#ffd300"/><stop offset="0.507" stop-color="#ffb000"/><stop offset="0.519" stop-color="#ff9000"/><stop offset="0.530" stop-color="#ff7200"/><stop offset="0.542" stop-color="#ff5700"/><stop offset="0.554" stop-color="#ff3e00"/><stop offset="0.575" stop-color="#ff1900"/><stop offset="0.612" stop-color="#eb0000"/><stop offset="0.650" stop-color="#d60000"/><stop offset="0.687" stop-color="#ce0000"/><stop offset="0.780" stop-color="#c80000"/><stop offset="0.874" stop-color="#cd0000"/><stop offset="0.921" stop-color="#cb0000"/><stop offset="0.967" stop-color="#b70000"/></linearGradient><linearGradient id="h22" x1="0" y1="0" x2="0" y2="1"><stop offset="0.033" stop-color="#ff3800"/><stop offset="0.126" stop-color="#ff4100"/><stop offset="0.220" stop-color="#ff4c00"/><stop offset="0.266" stop-color="#ff4f00"/><stop offset="0.285" stop-color="#ff5f00"/><stop offset="0.297" stop-color="#ff7c00"/><stop offset="0.308" stop-color="#ffb600"/><stop offset="0.320" stop-color="#eaff15"/><stop offset="0.332" stop-color="#6bff94"/><stop offset="0.343" stop-color="#00ddff"/><stop offset="0.355" stop-color="#005dff"/><stop offset="0.367" stop-color="#0004ff"/><stop offset="0.379" stop-color="#0000d9"/><stop offset="0.390" stop-color="#0000d4"/><stop offset="0.402" stop-color="#0000db"/><stop offset="0.414" stop-color="#0000f0"/><stop offset="0.425" stop-color="#001dff"/><stop offset="0.437" stop-color="#006dff"/><stop offset="0.449" stop-color="#00e0ff"/><stop offset="0.460" stop-color="#5effa1"/><stop offset="0.472" stop-color="#c2ff3d"/><stop offset="0.484" stop-color="#fffd00"/><stop offset="0.495" stop-color="#ffd300"/><stop offset="0.507" stop-color="#ffb000"/><stop offset="0.519" stop-color="#ff9000"/><stop offset="0.530" stop-color="#ff7100"/><stop offset="0.542" stop-color="#ff5600"/><stop offset="0.554" stop-color="#ff3d00"/><stop offset="0.575" stop-color="#ff1800"/><stop offset="0.612" stop-color="#ea0000"/><stop offset="0.650" stop-color="#d50000"/><stop offset="0.687" stop-color="#cd0000"/><stop offset="0.780" stop-color="#c70000"/><stop offset="0.874" stop-color="#cc0000"/><stop offset="0.921" stop-color="#ca0000"/><stop offset="0.967" stop-color="#b60000"/></linearGradient><linearGradient id="h23" x1="0" y1="0" x2="0" y2="1"><stop offset="0.033" stop-color="#ff3800"/><stop offset="0.126" stop-color="#ff4100"/><stop offset="0.220" stop-color="#ff4c00"/><stop offset="0.266" stop-color="#ff4f00"/><stop offset="0.285" stop-color="#ff6000"/><stop offset="0.297" stop-color="#ff7f00"/><stop offset="0.308" stop-color="#ffbb00"/><stop offset="0.320" stop-color="#e1ff1e"/><stop offset="0.332" stop-color="#5effa1"/><stop offset="0.343" stop-color="#00ccff"/><stop offset="0.355" stop-color="#004bff"/><stop offset="0.367" stop-color="#0000ef"/><stop offset="0.379" stop-color="#0000c6"/><stop offset="0.390" stop-color="#0000c2"/><stop offset="0.402" stop-color="#0000ca"/><stop offset="0.414" stop-color="#0000e0"/><stop offset="0.425" stop-color="#0010ff"/><stop offset="0.437" stop-color="#0065ff"/><stop offset="0.449" stop-color="#00ddff"/><stop offset="0.460" stop-color="#5effa1"/><stop offset="0.472" stop-color="#c2ff3d"/><stop offset="0.484" stop-color="#fffd00"/><stop offset="0.495" stop-color="#ffd300"/><stop offset="0.507" stop-color="#ffaf00"/><stop offset="0.519" stop-color="#ff8e00"/><stop offset="0.530" stop-color="#ff7000"/><stop offset="0.542" stop-color="#ff5400"/><stop offset="0.554" stop-color="#ff3b00"/><stop offset="0.575" stop-color="#ff1600"/><stop offset="0.612" stop-color="#e80000"/><stop offset="0.650" stop-color="#d40000"/><stop offset="0.687" stop-color="#cc0000"/><stop offset="0.780" stop-color="#c60000"/><stop offset="0.874" stop-color="#cb0000"/><stop offset="0.921" stop-color="#c90000"/><stop offset="0.967" stop-color="#b60000"/></linearGradient><linearGradient id="h24" x1="0" y1="0" x2="0" y2="1"><stop offset="0.033" stop-color="#ff3800"/><stop offset="0.126" stop-color="#ff4100"/><stop offset="0.220" stop-color="#ff4c00"/><stop offset="0.266" stop-color="#ff5000"/><stop offset="0.285" stop-color="#ff6100"/><stop offset="0.297" stop-color="#ff8300"/><stop offset="0.308" stop-color="#ffc300"/><stop offset="0.320" stop-color="#d4ff2b"/><stop offset="0.332" stop-color="#4cffb3"/><stop offset="0.343" stop-color="#00b6ff"/><stop offset="0.355" stop-color="#0031ff"/><stop offset="0.367" stop-color="#0000d6"/><stop offset="0.379" stop-color="#0000ae"/><stop offset="0.390" stop-color="#0000ab"/><stop offset="0.402" stop-color="#0000b4"/><stop offset="0.414" stop-color="#0000cc"/><stop offset="0.425" stop-color="#0000ff"/><stop offset="0.437" stop-color="#005bff"/><stop offset="0.449" stop-color="#00d9ff"/><stop offset="0.460" stop-color="#5dffa2"/><stop offset="0.472" stop-color="#c3ff3c"/><stop offset="0.484" stop-color="#fffc00"/><stop offset="0.495" stop-color="#ffd200"/><stop offset="0.507" stop-color="#ffad00"/><stop offset="0.519" stop-color="#ff8c00"/><stop offset="0.530" stop-color="#ff6c00"/><stop offset="0.542" stop-color="#ff5000"/><stop offset="0.554" stop-color="#ff3800"/><stop offset="0.575" stop-color="#ff1300"/><stop offset="0.612" stop-color="#e60000"/><stop offset="0.650" stop-color="#d20000"/><stop offset="0.687" stop-color="#cb0000"/><stop offset="0.780" stop-color="#c50000"/><stop offset="0.874" stop-color="#ca0000"/><stop offset="0.921" stop-color="#c90000"/><stop offset="0.967" stop-color="#b50000"/></linearGradient><linearGradient id="h25" x1="0" y1="0" x2="0" y2="1"><stop offset="0.033" stop-color="#ff3800"/><stop offset="0.126" stop-color="#ff4100"/><stop offset="0.220" stop-color="#ff4c00"/><stop offset="0.266" stop-color="#ff5000"/><stop offset="0.285" stop-color="#ff6400"/><stop offset="0.297" stop-color="#ff8800"/><stop offset="0.308" stop-color="#ffcd00"/><stop offset="0.320" stop-color="#c4ff3b"/><stop offset="0.332" stop-color="#36ffc9"/><stop offset="0.343" stop-color="#009bff"/><stop offset="0.355" stop-color="#0015ff"/><stop offset="0.367" stop-color="#0000ba"/><stop offset="0.379" stop-color="#000094"/><stop offset="0.390" stop-color="#000092"/><stop offset="0.402" stop-color="#00009c"/><stop offset="0.414" stop-color="#0000b7"/><stop offset="0.425" stop-color="#0000f0"/><stop offset="0.437" stop-color="#0053ff"/><stop offset="0.449" stop-color="#00d8ff"/><stop offset="0.460" stop-color="#61ff9e"/><stop offset="0.472" stop-color="#c6ff39"/><stop offset="0.484" stop-color="#fffa00"/><stop offset="0.495" stop-color="#ffcf00"/><stop offset="0.507" stop-color="#ffaa00"/><stop offset="0.519" stop-color="#ff8700"/><stop offset="0.530" stop-color="#ff6800"/><stop offset="0.542" stop-color="#ff4c00"/><stop offset="0.554" stop-color="#ff3300"/><stop offset="0.575" stop-color="#ff0f00"/><stop offset="0.612" stop-color="#e40000"/><stop offset="0.650" stop-color="#d10000"/><stop offset="0.687" stop-color="#ca0000"/><stop offset="0.780" stop-color="#c40000"/><stop offset="0.874" stop-color="#c90000"/><stop offset="0.921" stop-color="#c80000"/><stop offset="0.967" stop-color="#b50000"/></linearGradient><linearGradient id="h26" x1="0" y1="0" x2="0" y2="1"><stop offset="0.033" stop-color="#ff3800"/><stop offset="0.126" stop-color="#ff4100"/><stop offset="0.220" stop-color="#ff4c00"/><stop offset="0.266" stop-color="#ff5100"/><stop offset="0.285" stop-color="#ff6600"/><stop offset="0.297" stop-color="#ff8d00"/><stop offset="0.308" stop-color="#ffd700"/><stop offset="0.320" stop-color="#b4ff4b"/><stop offset="0.332" stop-color="#20ffdf"/><stop offset="0.343" stop-color="#0081ff"/><stop offset="0.355" stop-color="#0000f9"/><stop offset="0.367" stop-color="#0000a0"/><stop offset="0.379" stop-color="#000080"/><stop offset="0.390" stop-color="#000080"/><stop offset="0.402" stop-color="#000087"/><stop offset="0.414" stop-color="#0000a6"/><stop offset="0.425" stop-color="#0000e5"/><stop offset="0.437" stop-color="#0051ff"/><stop offset="0.449" stop-color="#00deff"/><stop offset="0.460" stop-color="#6aff95"/><stop offset="0.472" stop-color="#cdff32"/><stop offset="0.484" stop-color="#fff500"/><stop offset="0.495" stop-color="#ffca00"/><stop offset="0.507" stop-color="#ffa400"/><stop offset="0.519" stop-color="#ff8100"/><stop offset="0.530" stop-color="#ff6200"/><stop offset="0.542" stop-color="#ff4600"/><stop offset="0.554" stop-color="#ff2e00"/><stop offset="0.575" stop-color="#ff0a00"/><stop offset="0.612" stop-color="#e10000"/><stop offset="0.650" stop-color="#cf0000"/><stop offset="0.687" stop-color="#c90000"/><stop offset="0.780" stop-color="#c30000"/><stop offset="0.874" stop-color="#c90000"/><stop offset="0.921" stop-color="#c80000"/><stop offset="0.967" stop-color="#b50000"/></linearGradient><linearGradient id="h27" x1="0" y1="0" x2="0" y2="1"><stop offset="0.033" stop-color="#ff3800"/><stop offset="0.126" stop-color="#ff4100"/><stop offset="0.220" stop-color="#ff4c00"/><stop offset="0.266" stop-color="#ff5100"/><stop offset="0.285" stop-color="#ff6900"/><stop offset="0.297" stop-color="#ff9300"/><stop offset="0.308" stop-color="#ffe200"/><stop offset="0.320" stop-color="#a4ff5b"/><stop offset="0.332" stop-color="#0bfff4"/><stop offset="0.343" stop-color="#0069ff"/><stop offset="0.355" stop-color="#0000e1"/><stop offset="0.367" stop-color="#00008b"/><stop offset="0.379" stop-color="#000080"/><stop offset="0.390" stop-color="#000080"/><stop offset="0.402" stop-color="#000080"/><stop offset="0.414" stop-color="#00009b"/><stop offset="0.425" stop-color="#0000e1"/><stop offset="0.437" stop-color="#0057ff"/><stop offset="0.449" stop-color="#00ebff"/><stop offset="0.460" stop-color="#77ff88"/><stop offset="0.472" stop-color="#d7ff28"/><stop offset="0.484" stop-color="#ffed00"/><stop offset="0.495" stop-color="#ffc200"/><stop offset="0.507" stop-color="#ff9c00"/><stop offset="0.519" stop-color="#ff7900"/><stop offset="0.530" stop-color="#ff5a00"/><stop offset="0.542" stop-color="#ff3f00"/><stop offset="0.554" stop-color="#ff2700"/><stop offset="0.575" stop-color="#ff0600"/><stop offset="0.612" stop-color="#df0000"/><stop offset="0.650" stop-color="#ce0000"/><stop offset="0.687" stop-color="#c80000"/><stop offset="0.780" stop-color="#c30000"/><stop offset="0.874" stop-color="#c80000"/><stop offset="0.921" stop-color="#c70000"/><stop offset="0.967" stop-color="#b40000"/></linearGradient><linearGradient id="h28" x1="0" y1="0" x2="0" y2="1"><stop offset="0.033" stop-color="#ff3800"/><stop offset="0.126" stop-color="#ff4100"/><stop offset="0.220" stop-color="#ff4c00"/><stop offset="0.266" stop-color="#ff5200"/><stop offset="0.285" stop-color="#ff6b00"/><stop offset="0.297" stop-color="#ff9800"/><stop offset="0.308" stop-color="#ffeb00"/><stop offset="0.320" stop-color="#96ff69"/><stop offset="0.332" stop-color="#00f9ff"/><stop offset="0.343" stop-color="#0058ff"/><stop offset="0.355" stop-color="#0000d2"/><stop offset="0.367" stop-color="#000080"/><stop offset="0.379" stop-color="#000080"/><stop offset="0.390" stop-color="#000080"/><stop offset="0.402" stop-color="#000080"/><stop offset="0.414" stop-color="#00009a"/><stop offset="0.425" stop-color="#0000e8"/><stop offset="0.437" stop-color="#0066ff"/><stop offset="0.449" stop-color="#01fffe"/><stop offset="0.460" stop-color="#8aff75"/><stop offset="0.472" stop-color="#e4ff1b"/><stop offset="0.484" stop-color="#ffe200"/><stop offset="0.495" stop-color="#ffb800"/><stop offset="0.507" stop-color="#ff9200"/><stop offset="0.519" stop-color="#ff7000"/><stop offset="0.530" stop-color="#ff5100"/><stop offset="0.542" stop-color="#ff3700"/><stop offset="0.554" stop-color="#ff2100"/><stop offset="0.575" stop-color="#ff0100"/><stop offset="0.612" stop-color="#dd0000"/><stop offset="0.650" stop-color="#cd0000"/><stop offset="0.687" stop-color="#c80000"/><stop offset="0.780" stop-color="#c20000"/><stop offset="0.874" stop-color="#c80000"/><stop offset="0.921" stop-color="#c70000"/><stop offset="0.967" stop-color="#b40000"/></linearGradient><linearGradient id="h29" x1="0" y1="0" x2="0" y2="1"><stop offset="0.033" stop-color="#ff3800"/><stop offset="0.126" stop-color="#ff4100"/><stop offset="0.220" stop-color="#ff4c00"/><stop offset="0.266" stop-color="#ff5200"/><stop offset="0.285" stop-color="#ff6e00"/><stop offset="0.297" stop-color="#ff9d00"/><stop offset="0.308" stop-color="#fff300"/><stop offset="0.320" stop-color="#8bff74"/><stop offset="0.332" stop-color="#00ebff"/><stop offset="0.343" stop-color="#004bff"/><stop offset="0.355" stop-color="#0000c7"/><stop offset="0.367" stop-color="#000080"/><stop offset="0.379" stop-color="#000080"/><stop offset="0.390" stop-color="#000080"/><stop offset="0.402" stop-color="#000080"/><stop offset="0.414" stop-color="#00009d"/><stop offset="0.425" stop-color="#0000f2"/><stop offset="0.437" stop-color="#0079ff"/><stop offset="0.449" stop-color="#17ffe8"/><stop offset="0.460" stop-color="#9dff62"/><stop offset="0.472" stop-color="#f2ff0d"/><stop offset="0.484" stop-color="#ffd700"/><stop offset="0.495" stop-color="#ffad00"/><stop offset="0.507" stop-color="#ff8800"/><stop offset="0.519" stop-color="#ff6600"/><stop offset="0.530" stop-color="#ff4900"/><stop offset="0.542" stop-color="#ff3000"/><stop offset="0.554" stop-color="#ff1b00"/><stop offset="0.575" stop-color="#fc0000"/><stop offset="0.612" stop-color="#db0000"/><stop offset="0.650" stop-color="#cd0000"/><stop offset="0.687" stop-color="#c80000"/><stop offset="0.780" stop-color="#c20000"/><stop offset="0.874" stop-color="#c70000"/><stop offset="0.921" stop-color="#c70000"/><stop offset="0.967" stop-color="#b40000"/></linearGradient><linearGradient id="h30" x1="0" y1="0" x2="0" y2="1"><stop offset="0.033" stop-color="#ff3800"/><stop offset="0.126" stop-color="#ff4100"/><stop offset="0.220" stop-color="#ff4c00"/><stop offset="0.266" stop-color="#ff5300"/><stop offset="0.285" stop-color="#ff7000"/><stop offset="0.297" stop-color="#ffa300"/><stop offset="0.308" stop-color="#fffc00"/><stop offset="0.320" stop-color="#7eff81"/><stop offset="0.332" stop-color="#00dbff"/><stop offset="0.343" stop-color="#003aff"/><stop offset="0.355" stop-color="#0000b8"/><stop offset="0.367" stop-color="#000080"/><stop offset="0.379" stop-color="#000080"/><stop offset="0.390" stop-color="#000080"/><stop offset="0.402" stop-color="#000080"/><stop offset="0.414" stop-color="#00009b"/><stop offset="0.425" stop-color="#0000f7"/><stop offset="0.437" stop-color="#0086ff"/><stop offset="0.449" stop-color="#28ffd7"/><stop offset="0.460" stop-color="#abff54"/><stop offset="0.472" stop-color="#fcff03"/><stop offset="0.484" stop-color="#ffcf00"/><stop offset="0.495" stop-color="#ffa500"/><stop offset="0.507" stop-color="#ff8000"/><stop offset="0.519" stop-color="#ff5f00"/><stop offset="0.530" stop-color="#ff4300"/><stop offset="0.542" stop-color="#ff2a00"/><stop offset="0.554" stop-color="#ff1600"/><stop offset="0.575" stop-color="#f90000"/><stop offset="0.612" stop-color="#da0000"/><stop offset="0.650" stop-color="#cc0000"/><stop offset="0.687" stop-color="#c70000"/><stop offset="0.780" stop-color="#c20000"/><stop offset="0.874" stop-color="#c70000"/><stop offset="0.921" stop-color="#c70000"/><stop offset="0.967" stop-color="#b40000"/></linearGradient><linearGradient id="h31" x1="0" y1="0" x2="0" y2="1"><stop offset="0.033" stop-color="#ff3800"/><stop offset="0.126" stop-color="#ff4100"/><stop offset="0.220" stop-color="#ff4c00"/><stop offset="0.266" stop-color="#ff5300"/><stop offset="0.285" stop-color="#ff7300"/><stop offset="0.297" stop-color="#ffa700"/><stop offset="0.308" stop-color="#f9ff06"/><stop offset="0.320" stop-color="#71ff8e"/><stop offset="0.332" stop-color="#00ccff"/><stop offset="0.343" stop-color="#0029ff"/><stop offset="0.355" stop-color="#0000a8"/><stop offset="0.367" stop-color="#000080"/><stop offset="0.379" stop-color="#000080"/><stop offset="0.390" stop-color="#000080"/><stop offset="0.402" stop-color="#000080"/><stop offset="0.414" stop-color="#000095"/><stop offset="0.425" stop-color="#0000f9"/><stop offset="0.437" stop-color="#008fff"/><stop offset="0.449" stop-color="#35ffca"/><stop offset="0.460" stop-color="#b5ff4a"/><stop offset="0.472" stop-color="#fffb00"/><stop offset="0.484" stop-color="#ffc900"/><stop offset="0.495" stop-color="#ff9f00"/><stop offset="0.507" stop-color="#ff7a00"/><stop offset="0.519" stop-color="#ff5900"/><stop offset="0.530" stop-color="#ff3e00"/><stop offset="0.542" stop-color="#ff2600"/><stop offset="0.554" stop-color="#ff1300"/><stop offset="0.575" stop-color="#f70000"/><stop offset="0.612" stop-color="#d90000"/><stop offset="0.650" stop-color="#cc0000"/><stop offset="0.687" stop-color="#c70000"/><stop offset="0.780" stop-color="#c20000"/><stop offset="0.874" stop-color="#c70000"/><stop offset="0.921" stop-color="#c70000"/><stop offset="0.967" stop-color="#b40000"/></linearGradient><linearGradient id="h32" x1="0" y1="0" x2="0" y2="1"><stop offset="0.033" stop-color="#ff3800"/><stop offset="0.126" stop-color="#ff4100"/><stop offset="0.220" stop-color="#ff4c00"/><stop offset="0.266" stop-color="#ff5300"/><stop offset="0.285" stop-color="#ff7400"/><stop offset="0.297" stop-color="#ffab00"/><stop offset="0.308" stop-color="#f3ff0c"/><stop offset="0.320" stop-color="#68ff97"/><stop offset="0.332" stop-color="#00c1ff"/><stop offset="0.343" stop-color="#001cff"/><stop offset="0.355" stop-color="#00009b"/><stop offset="0.367" stop-color="#000080"/><stop offset="0.379" stop-color="#000080"/><stop offset="0.390" stop-color="#000080"/><stop offset="0.402" stop-color="#000080"/><stop offset="0.414" stop-color="#000090"/><stop offset="0.425" stop-color="#0000f9"/><stop offset="0.437" stop-color="#0094ff"/><stop offset="0.449" stop-color="#3cffc3"/><stop offset="0.460" stop-color="#bbff44"/><stop offset="0.472" stop-color="#fff700"/><stop offset="0.484" stop-color="#ffc500"/><stop offset="0.495" stop-color="#ff9b00"/><stop offset="0.507" stop-color="#ff7600"/><stop offset="0.519" stop-color="#ff5600"/><stop offset="0.530" stop-color="#ff3b00"/><stop offset="0.542" stop-color="#ff2400"/><stop offset="0.554" stop-color="#ff1100"/><stop offset="0.575" stop-color="#f60000"/><stop offset="0.612" stop-color="#d90000"/><stop offset="0.650" stop-color="#cc0000"/><stop offset="0.687" stop-color="#c70000"/><stop offset="0.780" stop-color="#c20000"/><stop offset="0.874" stop-color="#c70000"/><stop offset="0.921" stop-color="#c70000"/><stop offset="0.967" stop-color="#b40000"/></linearGradient><linearGradient id="h33" x1="0" y1="0" x2="0" y2="1"><stop offset="0.033" stop-color="#ff3800"/><stop offset="0.126" stop-color="#ff4100"/><stop offset="0.220" stop-color="#ff4c00"/><stop offset="0.266" stop-color="#ff5400"/><stop offset="0.285" stop-color="#ff7500"/><stop offset="0.297" stop-color="#ffac00"/><stop offset="0.308" stop-color="#f1ff0e"/><stop offset="0.320" stop-color="#65ff9a"/><stop offset="0.332" stop-color="#00bcff"/><stop offset="0.343" stop-color="#0017ff"/><stop offset="0.355" stop-color="#000095"/><stop offset="0.367" stop-color="#000080"/><stop offset="0.379" stop-color="#000080"/><stop offset="0.390" stop-color="#000080"/><stop offset="0.402" stop-color="#000080"/><stop offset="0.414" stop-color="#00008e"/><stop offset="0.425" stop-color="#0000f8"/><stop offset="0.437" stop-color="#0096ff"/><stop offset="0.449" stop-color="#3fffc0"/><stop offset="0.460" stop-color="#bdff42"/><stop offset="0.472" stop-color="#fff600"/><stop offset="0.484" stop-color="#ffc400"/><stop offset="0.495" stop-color="#ff9a00"/><stop offset="0.507" stop-color="#ff7500"/><stop offset="0.519" stop-color="#ff5500"/><stop offset="0.530" stop-color="#ff3a00"/><stop offset="0.542" stop-color="#ff2300"/><stop offset="0.554" stop-color="#ff1000"/><stop offset="0.575" stop-color="#f50000"/><stop offset="0.612" stop-color="#d90000"/><stop offset="0.650" stop-color="#cc0000"/><stop offset="0.687" stop-color="#c80000"/><stop offset="0.780" stop-color="#c20000"/><stop offset="0.874" stop-color="#c80000"/><stop offset="0.921" stop-color="#c70000"/><stop offset="0.967" stop-color="#b40000"/></linearGradient><linearGradient id="h34" x1="0" y1="0" x2="0" y2="1"><stop offset="0.033" stop-color="#ff3800"/><stop offset="0.126" stop-color="#ff4100"/><stop offset="0.220" stop-color="#ff4c00"/><stop offset="0.266" stop-color="#ff5400"/><stop offset="0.285" stop-color="#ff7500"/><stop offset="0.297" stop-color="#ffad00"/><stop offset="0.308" stop-color="#f1ff0e"/><stop offset="0.320" stop-color="#65ff9a"/><stop offset="0.332" stop-color="#00bcff"/><stop offset="0.343" stop-color="#0017ff"/><stop offset="0.355" stop-color="#000096"/><stop offset="0.367" stop-color="#000080"/><stop offset="0.379" stop-color="#000080"/><stop offset="0.390" stop-color="#000080"/><stop offset="0.402" stop-color="#000080"/><stop offset="0.414" stop-color="#00008f"/><stop offset="0.425" stop-color="#0000fa"/><stop offset="0.437" stop-color="#0099ff"/><stop offset="0.449" stop-color="#41ffbe"/><stop offset="0.460" stop-color="#bfff40"/><stop offset="0.472" stop-color="#fff500"/><stop offset="0.484" stop-color="#ffc300"/><stop offset="0.495" stop-color="#ff9900"/><stop offset="0.507" stop-color="#ff7400"/><stop offset="0.519" stop-color="#ff5400"/><stop offset="0.530" stop-color="#ff3900"/><stop offset="0.542" stop-color="#ff2300"/><stop offset="0.554" stop-color="#ff1000"/><stop offset="0.575" stop-color="#f50000"/><stop offset="0.612" stop-color="#d90000"/><stop offset="0.650" stop-color="#cd0000"/><stop offset="0.687" stop-color="#c80000"/><stop offset="0.780" stop-color="#c30000"/><stop offset="0.874" stop-color="#c80000"/><stop offset="0.921" stop-color="#c70000"/><stop offset="0.967" stop-color="#b40000"/></linearGradient><linearGradient id="h35" x1="0" y1="0" x2="0" y2="1"><stop offset="0.033" stop-color="#ff3800"/><stop offset="0.126" stop-color="#ff4100"/><stop offset="0.220" stop-color="#ff4c00"/><stop offset="0.266" stop-color="#ff5400"/><stop offset="0.285" stop-color="#ff7500"/><stop offset="0.297" stop-color="#ffad00"/><stop offset="0.308" stop-color="#f0ff0f"/><stop offset="0.320" stop-color="#64ff9b"/><stop offset="0.332" stop-color="#00bcff"/><stop offset="0.343" stop-color="#0019ff"/><stop offset="0.355" stop-color="#000098"/><stop offset="0.367" stop-color="#000080"/><stop offset="0.379" stop-color="#000080"/><stop offset="0.390" stop-color="#000080"/><stop offset="0.402" stop-color="#000080"/><stop offset="0.414" stop-color="#000094"/><stop offset="0.425" stop-color="#0002ff"/><stop offset="0.437" stop-color="#00a0ff"/><stop offset="0.449" stop-color="#48ffb7"/><stop offset="0.460" stop-color="#c4ff3b"/><stop offset="0.472" stop-color="#fff100"/><stop offset="0.484" stop-color="#ffc000"/><stop offset="0.495" stop-color="#ff9600"/><stop offset="0.507" stop-color="#ff7200"/><stop offset="0.519" stop-color="#ff5200"/><stop offset="0.530" stop-color="#ff3800"/><stop offset="0.542" stop-color="#ff2100"/><stop offset="0.554" stop-color="#ff0f00"/><stop offset="0.575" stop-color="#f50000"/><stop offset="0.612" stop-color="#d90000"/><stop offset="0.650" stop-color="#cd0000"/><stop offset="0.687" stop-color="#c90000"/><stop offset="0.780" stop-color="#c30000"/><stop offset="0.874" stop-color="#c90000"/><stop offset="0.921" stop-color="#c80000"/><stop offset="0.967" stop-color="#b50000"/></linearGradient><linearGradient id="h36" x1="0" y1="0" x2="0" y2="1"><stop offset="0.033" stop-color="#ff3800"/><stop offset="0.126" stop-color="#ff4100"/><stop offset="0.220" stop-color="#ff4c00"/><stop offset="0.266" stop-color="#ff5400"/><stop offset="0.285" stop-color="#ff7600"/><stop offset="0.297" stop-color="#ffad00"/><stop offset="0.308" stop-color="#f0ff0f"/><stop offset="0.320" stop-color="#64ff9b"/><stop offset="0.332" stop-color="#00bdff"/><stop offset="0.343" stop-color="#001aff"/><stop offset="0.355" stop-color="#00009b"/><stop offset="0.367" stop-color="#000080"/><stop offset="0.379" stop-color="#000080"/><stop offset="0.390" stop-color="#000080"/><stop offset="0.402" stop-color="#000080"/><stop offset="0.414" stop-color="#00009b"/><stop offset="0.425" stop-color="#000bff"/><stop offset="0.437" stop-color="#00acff"/><stop offset="0.449" stop-color="#53ffac"/><stop offset="0.460" stop-color="#cbff34"/><stop offset="0.472" stop-color="#ffec00"/><stop offset="0.484" stop-color="#ffbc00"/><stop offset="0.495" stop-color="#ff9200"/><stop offset="0.507" stop-color="#ff6e00"/><stop offset="0.519" stop-color="#ff4f00"/><stop offset="0.530" stop-color="#ff3500"/><stop offset="0.542" stop-color="#ff2000"/><stop offset="0.554" stop-color="#ff0e00"/><stop offset="0.575" stop-color="#f40000"/><stop offset="0.612" stop-color="#d90000"/><stop offset="0.650" stop-color="#cd0000"/><stop offset="0.687" stop-color="#c90000"/><stop offset="0.780" stop-color="#c40000"/><stop offset="0.874" stop-color="#c90000"/><stop offset="0.921" stop-color="#c80000"/><stop offset="0.967" stop-color="#b50000"/></linearGradient><linearGradient id="h37" x1="0" y1="0" x2="0" y2="1"><stop offset="0.033" stop-color="#ff3800"/><stop offset="0.126" stop-color="#ff4100"/><stop offset="0.220" stop-color="#ff4c00"/><stop offset="0.266" stop-color="#ff5400"/><stop offset="0.285" stop-color="#ff7600"/><stop offset="0.297" stop-color="#ffae00"/><stop offset="0.308" stop-color="#efff10"/><stop offset="0.320" stop-color="#63ff9c"/><stop offset="0.332" stop-color="#00bdff"/><stop offset="0.343" stop-color="#001bff"/><stop offset="0.355" stop-color="#00009e"/><stop offset="0.367" stop-color="#000080"/><stop offset="0.379" stop-color="#000080"/><stop offset="0.390" stop-color="#000080"/><stop offset="0.402" stop-color="#000080"/><stop offset="0.414" stop-color="#0000a4"/><stop offset="0.425" stop-color="#0017ff"/><stop offset="0.437" stop-color="#00baff"/><stop offset="0.449" stop-color="#60ff9f"/><stop offset="0.460" stop-color="#d5ff2a"/><stop offset="0.472" stop-color="#ffe600"/><stop offset="0.484" stop-color="#ffb600"/><stop offset="0.495" stop-color="#ff8e00"/><stop offset="0.507" stop-color="#ff6a00"/><stop offset="0.519" stop-color="#ff4c00"/><stop offset="0.530" stop-color="#ff3200"/><stop offset="0.542" stop-color="#ff1d00"/><stop offset="0.554" stop-color="#ff0c00"/><stop offset="0.575" stop-color="#f40000"/><stop offset="0.612" stop-color="#da0000"/><stop offset="0.650" stop-color="#ce0000"/><stop offset="0.687" stop-color="#ca0000"/><stop offset="0.780" stop-color="#c50000"/><stop offset="0.874" stop-color="#ca0000"/><stop offset="0.921" stop-color="#c90000"/><stop offset="0.967" stop-color="#b50000"/></linearGradient><linearGradient id="h38" x1="0" y1="0" x2="0" y2="1"><stop offset="0.033" stop-color="#ff3800"/><stop offset="0.126" stop-color="#ff4100"/><stop offset="0.220" stop-color="#ff4c00"/><stop offset="0.266" stop-color="#ff5400"/><stop offset="0.285" stop-color="#ff7700"/><stop offset="0.297" stop-color="#ffaf00"/><stop offset="0.308" stop-color="#edff12"/><stop offset="0.320" stop-color="#62ff9d"/><stop offset="0.332" stop-color="#00bcff"/><stop offset="0.343" stop-color="#001dff"/><stop offset="0.355" stop-color="#0000a2"/><stop offset="0.367" stop-color="#000080"/><stop offset="0.379" stop-color="#000080"/><stop offset="0.390" stop-color="#000080"/><stop offset="0.402" stop-color="#000080"/><stop offset="0.414" stop-color="#0000ae"/><stop offset="0.425" stop-color="#0026ff"/><stop offset="0.437" stop-color="#00cbff"/><stop offset="0.449" stop-color="#6fff90"/><stop offset="0.460" stop-color="#dfff20"/><stop offset="0.472" stop-color="#ffde00"/><stop offset="0.484" stop-color="#ffb000"/><stop offset="0.495" stop-color="#ff8800"/><stop offset="0.507" stop-color="#ff6500"/><stop offset="0.519" stop-color="#ff4800"/><stop offset="0.530" stop-color="#ff2f00"/><stop offset="0.542" stop-color="#ff1b00"/><stop offset="0.554" stop-color="#ff0a00"/><stop offset="0.575" stop-color="#f30000"/><stop offset="0.612" stop-color="#da0000"/><stop offset="0.650" stop-color="#cf0000"/><stop offset="0.687" stop-color="#cb0000"/><stop offset="0.780" stop-color="#c60000"/><stop offset="0.874" stop-color="#cb0000"/><stop offset="0.921" stop-color="#c90000"/><stop offset="0.967" stop-color="#b60000"/></linearGradient><linearGradient id="h39" x1="0" y1="0" x2="0" y2="1"><stop offset="0.033" stop-color="#ff3800"/><stop offset="0.126" stop-color="#ff4100"/><stop offset="0.220" stop-color="#ff4c00"/><stop offset="0.266" stop-color="#ff5400"/><stop offset="0.285" stop-color="#ff7800"/><stop offset="0.297" stop-color="#ffb100"/><stop offset="0.308" stop-color="#ebff14"/><stop offset="0.320" stop-color="#60ff9f"/><stop offset="0.332" stop-color="#00bbff"/><stop offset="0.343" stop-color="#001dff"/><stop offset="0.355" stop-color="#0000a4"/><stop offset="0.367" stop-color="#000080"/><stop offset="0.379" stop-color="#000080"/><stop offset="0.390" stop-color="#000080"/><stop offset="0.402" stop-color="#000080"/><stop offset="0.414" stop-color="#0000ba"/><stop offset="0.425" stop-color="#0036ff"/><stop offset="0.437" stop-color="#00deff"/><stop offset="0.449" stop-color="#80ff7f"/><stop offset="0.460" stop-color="#eaff15"/><stop offset="0.472" stop-color="#ffd600"/><stop offset="0.484" stop-color="#ffa900"/><stop offset="0.495" stop-color="#ff8200"/><stop offset="0.507" stop-color="#ff6000"/><stop offset="0.519" stop-color="#ff4300"/><stop offset="0.530" stop-color="#ff2c00"/><stop offset="0.542" stop-color="#ff1800"/><stop offset="0.554" stop-color="#ff0900"/><stop offset="0.575" stop-color="#f20000"/><stop offset="0.612" stop-color="#da0000"/><stop offset="0.650" stop-color="#cf0000"/><stop offset="0.687" stop-color="#cc0000"/><stop offset="0.780" stop-color="#c70000"/><stop offset="0.874" stop-color="#cc0000"/><stop offset="0.921" stop-color="#ca0000"/><stop offset="0.967" stop-color="#b60000"/></linearGradient><linearGradient id="h40" x1="0" y1="0" x2="0" y2="1"><stop offset="0.033" stop-color="#ff3800"/><stop offset="0.126" stop-color="#ff4100"/><stop offset="0.220" stop-color="#ff4c00"/><stop offset="0.266" stop-color="#ff5400"/><stop offset="0.285" stop-color="#ff7800"/><stop offset="0.297" stop-color="#ffb200"/><stop offset="0.308" stop-color="#e9ff16"/><stop offset="0.320" stop-color="#5effa1"/><stop offset="0.332" stop-color="#00b9ff"/><stop offset="0.343" stop-color="#001dff"/><stop offset="0.355" stop-color="#0000a7"/><stop offset="0.367" stop-color="#000080"/><stop offset="0.379" stop-color="#000080"/><stop offset="0.390" stop-color="#000080"/><stop offset="0.402" stop-color="#000080"/><stop offset="0.414" stop-color="#0000c5"/><stop offset="0.425" stop-color="#0047ff"/><stop offset="0.437" stop-color="#00f2ff"/><stop offset="0.449" stop-color="#91ff6e"/><stop offset="0.460" stop-color="#f5ff0a"/><stop offset="0.472" stop-color="#ffce00"/><stop offset="0.484" stop-color="#ffa200"/><stop offset="0.495" stop-color="#ff7b00"/><stop offset="0.507" stop-color="#ff5a00"/><stop offset="0.519" stop-color="#ff3f00"/><stop offset="0.530" stop-color="#ff2800"/><stop offset="0.542" stop-color="#ff1600"/><stop offset="0.554" stop-color="#ff0700"/><stop offset="0.575" stop-color="#f10000"/><stop offset="0.612" stop-color="#da0000"/><stop offset="0.650" stop-color="#d00000"/><stop offset="0.687" stop-color="#cd0000"/><stop offset="0.780" stop-color="#c80000"/><stop offset="0.874" stop-color="#cd0000"/><stop offset="0.921" stop-color="#cb0000"/><stop offset="0.967" stop-color="#b70000"/></linearGradient><linearGradient id="h41" x1="0" y1="0" x2="0" y2="1"><stop offset="0.033" stop-color="#ff3800"/><stop offset="0.126" stop-color="#ff4100"/><stop offset="0.220" stop-color="#ff4c00"/><stop offset="0.266" stop-color="#ff5500"/><stop offset="0.285" stop-color="#ff7a00"/><stop offset="0.297" stop-color="#ffb400"/><stop offset="0.308" stop-color="#e6ff19"/><stop offset="0.320" stop-color="#5affa5"/><stop offset="0.332" stop-color="#00b7ff"/><stop offset="0.343" stop-color="#001cff"/><stop offset="0.355" stop-color="#0000a8"/><stop offset="0.367" stop-color="#000080"/><stop offset="0.379" stop-color="#000080"/><stop offset="0.390" stop-color="#000080"/><stop offset="0.402" stop-color="#000086"/><stop offset="0.414" stop-color="#0000d1"/><stop offset="0.425" stop-color="#0058ff"/><stop offset="0.437" stop-color="#07fff8"/><stop offset="0.449" stop-color="#a1ff5e"/><stop offset="0.460" stop-color="#ffff00"/><stop offset="0.472" stop-color="#ffc600"/><stop offset="0.484" stop-color="#ff9b00"/><stop offset="0.495" stop-color="#ff7500"/><stop offset="0.507" stop-color="#ff5500"/><stop offset="0.519" stop-color="#ff3b00"/><stop offset="0.530" stop-color="#ff2500"/><stop offset="0.542" stop-color="#ff1400"/><stop offset="0.554" stop-color="#ff0500"/><stop offset="0.575" stop-color="#f10000"/><stop offset="0.612" stop-color="#db0000"/><stop offset="0.650" stop-color="#d10000"/><stop offset="0.687" stop-color="#ce0000"/><stop offset="0.780" stop-color="#c90000"/><stop offset="0.874" stop-color="#ce0000"/><stop offset="0.921" stop-color="#cc0000"/><stop offset="0.967" stop-color="#b70000"/></linearGradient><linearGradient id="h42" x1="0" y1="0" x2="0" y2="1"><stop offset="0.033" stop-color="#ff3800"/><stop offset="0.126" stop-color="#ff4100"/><stop offset="0.220" stop-color="#ff4c00"/><stop offset="0.266" stop-color="#ff5500"/><stop offset="0.285" stop-color="#ff7b00"/><stop offset="0.297" stop-color="#ffb700"/><stop offset="0.308" stop-color="#e2ff1d"/><stop offset="0.320" stop-color="#56ffa9"/><stop offset="0.332" stop-color="#00b2ff"/><stop offset="0.343" stop-color="#001aff"/><stop offset="0.355" stop-color="#0000a7"/><stop offset="0.367" stop-color="#000080"/><stop offset="0.379" stop-color="#000080"/><stop offset="0.390" stop-color="#000080"/><stop offset="0.402" stop-color="#00008c"/><stop offset="0.414" stop-color="#0000db"/><stop offset="0.425" stop-color="#0069ff"/><stop offset="0.437" stop-color="#1bffe4"/><stop offset="0.449" stop-color="#b0ff4f"/><stop offset="0.460" stop-color="#fff500"/><stop offset="0.472" stop-color="#ffbf00"/><stop offset="0.484" stop-color="#ff9400"/><stop offset="0.495" stop-color="#ff6f00"/><stop offset="0.507" stop-color="#ff5000"/><stop offset="0.519" stop-color="#ff3700"/><stop offset="0.530" stop-color="#ff2200"/><stop offset="0.542" stop-color="#ff1100"/><stop offset="0.554" stop-color="#ff0400"/><stop offset="0.575" stop-color="#f00000"/><stop offset="0.612" stop-color="#db0000"/><stop offset="0.650" stop-color="#d20000"/><stop offset="0.687" stop-color="#cf0000"/><stop offset="0.780" stop-color="#cb0000"/><stop offset="0.874" stop-color="#cf0000"/><stop offset="0.921" stop-color="#cc0000"/><stop offset="0.967" stop-color="#b80000"/></linearGradient><linearGradient id="h43" x1="0" y1="0" x2="0" y2="1"><stop offset="0.033" stop-color="#ff3800"/><stop offset="0.126" stop-color="#ff4100"/><stop offset="0.220" stop-color="#ff4c00"/><stop offset="0.266" stop-color="#ff5500"/><stop offset="0.285" stop-color="#ff7c00"/><stop offset="0.297" stop-color="#ffba00"/><stop offset="0.308" stop-color="#deff21"/><stop offset="0.320" stop-color="#51ffae"/><stop offset="0.332" stop-color="#00adff"/><stop offset="0.343" stop-color="#0016ff"/><stop offset="0.355" stop-color="#0000a5"/><stop offset="0.367" stop-color="#000080"/><stop offset="0.379" stop-color="#000080"/><stop offset="0.390" stop-color="#000080"/><stop offset="0.402" stop-color="#000091"/><stop offset="0.414" stop-color="#0000e5"/><stop offset="0.425" stop-color="#0079ff"/><stop offset="0.437" stop-color="#2dffd2"/><stop offset="0.449" stop-color="#beff41"/><stop offset="0.460" stop-color="#ffec00"/><stop offset="0.472" stop-color="#ffb800"/><stop offset="0.484" stop-color="#ff8e00"/><stop offset="0.495" stop-color="#ff6a00"/><stop offset="0.507" stop-color="#ff4c00"/><stop offset="0.519" stop-color="#ff3300"/><stop offset="0.530" stop-color="#ff2000"/><stop offset="0.542" stop-color="#ff1000"/><stop offset="0.554" stop-color="#ff0300"/><stop offset="0.575" stop-color="#f00000"/><stop offset="0.612" stop-color="#dc0000"/><stop offset="0.650" stop-color="#d30000"/><stop offset="0.687" stop-color="#d00000"/><stop offset="0.780" stop-color="#cc0000"/><stop offset="0.874" stop-color="#d00000"/><stop offset="0.921" stop-color="#cd0000"/><stop offset="0.967" stop-color="#b90000"/></linearGradient><linearGradient id="h44" x1="0" y1="0" x2="0" y2="1"><stop offset="0.033" stop-color="#ff3800"/><stop offset="0.126" stop-color="#ff4100"/><stop offset="0.220" stop-color="#ff4c00"/><stop offset="0.266" stop-color="#ff5600"/><stop offset="0.285" stop-color="#ff7d00"/><stop offset="0.297" stop-color="#ffba00"/><stop offset="0.308" stop-color="#dfff20"/><stop offset="0.320" stop-color="#54ffab"/><stop offset="0.332" stop-color="#00b5ff"/><stop offset="0.343" stop-color="#0022ff"/><stop offset="0.355" stop-color="#0000b6"/><stop offset="0.367" stop-color="#000081"/><stop offset="0.379" stop-color="#000080"/><stop offset="0.390" stop-color="#000083"/><stop offset="0.402" stop-color="#0000a9"/><stop offset="0.414" stop-color="#0001ff"/><stop offset="0.425" stop-color="#0096ff"/><stop offset="0.437" stop-color="#48ffb7"/><stop offset="0.449" stop-color="#d1ff2e"/><stop offset="0.460" stop-color="#ffe000"/><stop offset="0.472" stop-color="#ffae00"/><stop offset="0.484" stop-color="#ff8600"/><stop offset="0.495" stop-color="#ff6300"/><stop offset="0.507" stop-color="#ff4700"/><stop offset="0.519" stop-color="#ff2f00"/><stop offset="0.530" stop-color="#ff1d00"/><stop offset="0.542" stop-color="#ff0e00"/><stop offset="0.554" stop-color="#ff0200"/><stop offset="0.575" stop-color="#f00000"/><stop offset="0.612" stop-color="#dc0000"/><stop offset="0.650" stop-color="#d40000"/><stop offset="0.687" stop-color="#d10000"/><stop offset="0.780" stop-color="#cd0000"/><stop offset="0.874" stop-color="#d10000"/><stop offset="0.921" stop-color="#ce0000"/><stop offset="0.967" stop-color="#b90000"/></linearGradient><linearGradient id="h45" x1="0" y1="0" x2="0" y2="1"><stop offset="0.033" stop-color="#ff3800"/><stop offset="0.126" stop-color="#ff4100"/><stop offset="0.220" stop-color="#ff4c00"/><stop offset="0.266" stop-color="#ff5600"/><stop offset="0.285" stop-color="#ff7c00"/><stop offset="0.297" stop-color="#ffb700"/><stop offset="0.308" stop-color="#e6ff19"/><stop offset="0.320" stop-color="#61ff9e"/><stop offset="0.332" stop-color="#00caff"/><stop offset="0.343" stop-color="#0040ff"/><stop offset="0.355" stop-color="#0000dc"/><stop offset="0.367" stop-color="#0000ac"/><stop offset="0.379" stop-color="#0000a4"/><stop offset="0.390" stop-color="#0000b0"/><stop offset="0.402" stop-color="#0000d6"/><stop offset="0.414" stop-color="#002fff"/><stop offset="0.425" stop-color="#00c1ff"/><stop offset="0.437" stop-color="#6aff95"/><stop offset="0.449" stop-color="#e8ff17"/><stop offset="0.460" stop-color="#ffd100"/><stop offset="0.472" stop-color="#ffa200"/><stop offset="0.484" stop-color="#ff7c00"/><stop offset="0.495" stop-color="#ff5c00"/><stop offset="0.507" stop-color="#ff4100"/><stop offset="0.519" stop-color="#ff2b00"/><stop offset="0.530" stop-color="#ff1a00"/><stop offset="0.542" stop-color="#ff0c00"/><stop offset="0.554" stop-color="#ff0100"/><stop offset="0.575" stop-color="#f00000"/><stop offset="0.612" stop-color="#dd0000"/><stop offset="0.650" stop-color="#d40000"/><stop offset="0.687" stop-color="#d20000"/><stop offset="0.780" stop-color="#cf0000"/><stop offset="0.874" stop-color="#d20000"/><stop offset="0.921" stop-color="#cf0000"/><stop offset="0.967" stop-color="#ba0000"/></linearGradient><linearGradient id="h46" x1="0" y1="0" x2="0" y2="1"><stop offset="0.033" stop-color="#ff3800"/><stop offset="0.126" stop-color="#ff4100"/><stop offset="0.220" stop-color="#ff4c00"/><stop offset="0.266" stop-color="#ff5500"/><stop offset="0.285" stop-color="#ff7a00"/><stop offset="0.297" stop-color="#ffb200"/><stop offset="0.308" stop-color="#f0ff0f"/><stop offset="0.320" stop-color="#73ff8c"/><stop offset="0.332" stop-color="#00e6ff"/><stop offset="0.343" stop-color="#0067ff"/><stop offset="0.355" stop-color="#000cff"/><stop offset="0.367" stop-color="#0000e0"/><stop offset="0.379" stop-color="#0000da"/><stop offset="0.390" stop-color="#0000e6"/><stop offset="0.402" stop-color="#000dff"/><stop offset="0.414" stop-color="#0062ff"/><stop offset="0.425" stop-color="#00efff"/><stop offset="0.437" stop-color="#8dff72"/><stop offset="0.449" stop-color="#feff01"/><stop offset="0.460" stop-color="#ffc100"/><stop offset="0.472" stop-color="#ff9700"/><stop offset="0.484" stop-color="#ff7300"/><stop offset="0.495" stop-color="#ff5500"/><stop offset="0.507" stop-color="#ff3c00"/><stop offset="0.519" stop-color="#ff2800"/><stop offset="0.530" stop-color="#ff1800"/><stop offset="0.542" stop-color="#ff0b00"/><stop offset="0.554" stop-color="#ff0000"/><stop offset="0.575" stop-color="#f00000"/><stop offset="0.612" stop-color="#de0000"/><stop offset="0.650" stop-color="#d60000"/><stop offset="0.687" stop-color="#d30000"/><stop offset="0.780" stop-color="#d00000"/><stop offset="0.874" stop-color="#d30000"/><stop offset="0.921" stop-color="#d00000"/><stop offset="0.967" stop-color="#bb0000"/></linearGradient><linearGradient id="h47" x1="0" y1="0" x2="0" y2="1"><stop offset="0.033" stop-color="#ff3800"/><stop offset="0.126" stop-color="#ff4100"/><stop offset="0.220" stop-color="#ff4c00"/><stop offset="0.266" stop-color="#ff5500"/><stop offset="0.285" stop-color="#ff7800"/><stop offset="0.297" stop-color="#ffae00"/><stop offset="0.308" stop-color="#f9ff06"/><stop offset="0.320" stop-color="#84ff7b"/><stop offset="0.332" stop-color="#02fffd"/><stop offset="0.343" stop-color="#008cff"/><stop offset="0.355" stop-color="#0039ff"/><stop offset="0.367" stop-color="#0013ff"/><stop offset="0.379" stop-color="#000eff"/><stop offset="0.390" stop-color="#0019ff"/><stop offset="0.402" stop-color="#003fff"/><stop offset="0.414" stop-color="#0091ff"/><stop offset="0.425" stop-color="#18ffe7"/><stop offset="0.437" stop-color="#aaff55"/><stop offset="0.449" stop-color="#ffed00"/><stop offset="0.460" stop-color="#ffb400"/><stop offset="0.472" stop-color="#ff8d00"/><stop offset="0.484" stop-color="#ff6c00"/><stop offset="0.495" stop-color="#ff5000"/><stop offset="0.507" stop-color="#ff3900"/><stop offset="0.519" stop-color="#ff2600"/><stop offset="0.530" stop-color="#ff1700"/><stop offset="0.542" stop-color="#ff0b00"/><stop offset="0.554" stop-color="#ff0100"/><stop offset="0.575" stop-color="#f10000"/><stop offset="0.612" stop-color="#e00000"/><stop offset="0.650" stop-color="#d80000"/><stop offset="0.687" stop-color="#d60000"/><stop offset="0.780" stop-color="#d30000"/><stop offset="0.874" stop-color="#d60000"/><stop offset="0.921" stop-color="#d20000"/><stop offset="0.967" stop-color="#bc0000"/></linearGradient><linearGradient id="h48" x1="0" y1="0" x2="0" y2="1"><stop offset="0.033" stop-color="#ff3800"/><stop offset="0.126" stop-color="#ff4100"/><stop offset="0.220" stop-color="#ff4c00"/><stop offset="0.266" stop-color="#ff5500"/><stop offset="0.285" stop-color="#ff7800"/><stop offset="0.297" stop-color="#ffab00"/><stop offset="0.308" stop-color="#ffff00"/><stop offset="0.320" stop-color="#8fff70"/><stop offset="0.332" stop-color="#14ffeb"/><stop offset="0.343" stop-color="#00a4ff"/><stop offset="0.355" stop-color="#0058ff"/><stop offset="0.367" stop-color="#0035ff"/><stop offset="0.379" stop-color="#0031ff"/><stop offset="0.390" stop-color="#003cff"/><stop offset="0.402" stop-color="#0061ff"/><stop offset="0.414" stop-color="#00b2ff"/><stop offset="0.425" stop-color="#34ffcb"/><stop offset="0.437" stop-color="#beff41"/><stop offset="0.449" stop-color="#ffe100"/><stop offset="0.460" stop-color="#ffac00"/><stop offset="0.472" stop-color="#ff8700"/><stop offset="0.484" stop-color="#ff6800"/><stop offset="0.495" stop-color="#ff4d00"/><stop offset="0.507" stop-color="#ff3700"/><stop offset="0.519" stop-color="#ff2600"/><stop offset="0.530" stop-color="#ff1700"/><stop offset="0.542" stop-color="#ff0c00"/><stop offset="0.554" stop-color="#ff0200"/><stop offset="0.575" stop-color="#f30000"/><stop offset="0.612" stop-color="#e20000"/><stop offset="0.650" stop-color="#da0000"/><stop offset="0.687" stop-color="#d80000"/><stop offset="0.780" stop-color="#d60000"/><stop offset="0.874" stop-color="#d80000"/><stop offset="0.921" stop-color="#d50000"/><stop offset="0.967" stop-color="#bf0000"/></linearGradient><linearGradient id="h49" x1="0" y1="0" x2="0" y2="1"><stop offset="0.033" stop-color="#ff3800"/><stop offset="0.126" stop-color="#ff4100"/><stop offset="0.220" stop-color="#ff4c00"/><stop offset="0.266" stop-color="#ff5500"/><stop offset="0.285" stop-color="#ff7800"/><stop offset="0.297" stop-color="#ffac00"/><stop offset="0.308" stop-color="#feff01"/><stop offset="0.320" stop-color="#8fff70"/><stop offset="0.332" stop-color="#16ffe9"/><stop offset="0.343" stop-color="#00a9ff"/><stop offset="0.355" stop-color="#005fff"/><stop offset="0.367" stop-color="#003eff"/><stop offset="0.379" stop-color="#003aff"/><stop offset="0.390" stop-color="#0047ff"/><stop offset="0.402" stop-color="#006dff"/><stop offset="0.414" stop-color="#00c0ff"/><stop offset="0.425" stop-color="#43ffbc"/><stop offset="0.437" stop-color="#caff35"/><stop offset="0.449" stop-color="#ffda00"/><stop offset="0.460" stop-color="#ffa800"/><stop offset="0.472" stop-color="#ff8400"/><stop offset="0.484" stop-color="#ff6500"/><stop offset="0.495" stop-color="#ff4c00"/><stop offset="0.507" stop-color="#ff3700"/><stop offset="0.519" stop-color="#ff2600"/><stop offset="0.530" stop-color="#ff1800"/><stop offset="0.542" stop-color="#ff0d00"/><stop offset="0.554" stop-color="#ff0400"/><stop offset="0.575" stop-color="#f50000"/><stop offset="0.612" stop-color="#e50000"/><stop offset="0.650" stop-color="#de0000"/><stop offset="0.687" stop-color="#dc0000"/><stop offset="0.780" stop-color="#da0000"/><stop offset="0.874" stop-color="#dc0000"/><stop offset="0.921" stop-color="#d80000"/><stop offset="0.967" stop-color="#c20000"/></linearGradient><linearGradient id="h50" x1="0" y1="0" x2="0" y2="1"><stop offset="0.033" stop-color="#ff3800"/><stop offset="0.126" stop-color="#ff4100"/><stop offset="0.220" stop-color="#ff4c00"/><stop offset="0.266" stop-color="#ff5500"/><stop offset="0.285" stop-color="#ff7800"/><stop offset="0.297" stop-color="#ffac00"/><stop offset="0.308" stop-color="#fffe00"/><stop offset="0.320" stop-color="#94ff6b"/><stop offset="0.332" stop-color="#1effe1"/><stop offset="0.343" stop-color="#00b6ff"/><stop offset="0.355" stop-color="#006fff"/><stop offset="0.367" stop-color="#0051ff"/><stop offset="0.379" stop-color="#004eff"/><stop offset="0.390" stop-color="#005bff"/><stop offset="0.402" stop-color="#0083ff"/><stop offset="0.414" stop-color="#00d8ff"/><stop offset="0.425" stop-color="#5cffa3"/><stop offset="0.437" stop-color="#ddff22"/><stop offset="0.449" stop-color="#ffce00"/><stop offset="0.460" stop-color="#ffa000"/><stop offset="0.472" stop-color="#ff7e00"/><stop offset="0.484" stop-color="#ff6000"/><stop offset="0.495" stop-color="#ff4800"/><stop offset="0.507" stop-color="#ff3500"/><stop offset="0.519" stop-color="#ff2500"/><stop offset="0.530" stop-color="#ff1800"/><stop offset="0.542" stop-color="#ff0e00"/><stop offset="0.554" stop-color="#ff0500"/><stop offset="0.575" stop-color="#f80000"/><stop offset="0.612" stop-color="#e80000"/><stop offset="0.650" stop-color="#e10000"/><stop offset="0.687" stop-color="#e00000"/><stop offset="0.780" stop-color="#de0000"/><stop offset="0.874" stop-color="#e00000"/><stop offset="0.921" stop-color="#dc0000"/><stop offset="0.967" stop-color="#c50000"/></linearGradient><linearGradient id="h51" x1="0" y1="0" x2="0" y2="1"><stop offset="0.033" stop-color="#ff3800"/><stop offset="0.126" stop-color="#ff4100"/><stop offset="0.220" stop-color="#ff4c00"/><stop offset="0.266" stop-color="#ff5500"/><stop offset="0.285" stop-color="#ff7700"/><stop offset="0.297" stop-color="#ffa800"/><stop offset="0.308" stop-color="#fff700"/><stop offset="0.320" stop-color="#a1ff5e"/><stop offset="0.332" stop-color="#32ffcd"/><stop offset="0.343" stop-color="#00d0ff"/><stop offset="0.355" stop-color="#008fff"/><stop offset="0.367" stop-color="#0073ff"/><stop offset="0.379" stop-color="#0071ff"/><stop offset="0.390" stop-color="#007fff"/><stop offset="0.402" stop-color="#00a8ff"/><stop offset="0.414" stop-color="#00feff"/><stop offset="0.425" stop-color="#7fff80"/><stop offset="0.437" stop-color="#f8ff07"/><stop offset="0.449" stop-color="#ffbe00"/><stop offset="0.460" stop-color="#ff9500"/><stop offset="0.472" stop-color="#ff7500"/><stop offset="0.484" stop-color="#ff5a00"/><stop offset="0.495" stop-color="#ff4400"/><stop offset="0.507" stop-color="#ff3200"/><stop offset="0.519" stop-color="#ff2400"/><stop offset="0.530" stop-color="#ff1800"/><stop offset="0.542" stop-color="#ff0f00"/><stop offset="0.554" stop-color="#ff0700"/><stop offset="0.575" stop-color="#fa0000"/><stop offset="0.612" stop-color="#ec0000"/><stop offset="0.650" stop-color="#e50000"/><stop offset="0.687" stop-color="#e40000"/><stop offset="0.780" stop-color="#e20000"/><stop offset="0.874" stop-color="#e40000"/><stop offset="0.921" stop-color="#df0000"/><stop offset="0.967" stop-color="#c90000"/></linearGradient><linearGradient id="h52" x1="0" y1="0" x2="0" y2="1"><stop offset="0.033" stop-color="#ff3800"/><stop offset="0.126" stop-color="#ff4100"/><stop offset="0.220" stop-color="#ff4c00"/><stop offset="0.266" stop-color="#ff5500"/><stop offset="0.285" stop-color="#ff7500"/><stop offset="0.297" stop-color="#ffa400"/><stop offset="0.308" stop-color="#ffee00"/><stop offset="0.320" stop-color="#b0ff4f"/><stop offset="0.332" stop-color="#49ffb6"/><stop offset="0.343" stop-color="#00eeff"/><stop offset="0.355" stop-color="#00b3ff"/><stop offset="0.367" stop-color="#009aff"/><stop offset="0.379" stop-color="#0098ff"/><stop offset="0.390" stop-color="#00a6ff"/><stop offset="0.402" stop-color="#00d0ff"/><stop offset="0.414" stop-color="#29ffd6"/><stop offset="0.425" stop-color="#a5ff5a"/><stop offset="0.437" stop-color="#ffeb00"/><stop offset="0.449" stop-color="#ffad00"/><stop offset="0.460" stop-color="#ff8900"/><stop offset="0.472" stop-color="#ff6b00"/><stop offset="0.484" stop-color="#ff5300"/><stop offset="0.495" stop-color="#ff3f00"/><stop offset="0.507" stop-color="#ff2f00"/><stop offset="0.519" stop-color="#ff2300"/><stop offset="0.530" stop-color="#ff1800"/><stop offset="0.542" stop-color="#ff1000"/><stop offset="0.554" stop-color="#ff0900"/><stop offset="0.575" stop-color="#fd0000"/><stop offset="0.612" stop-color="#ef0000"/><stop offset="0.650" stop-color="#e90000"/><stop offset="0.687" stop-color="#e80000"/><stop offset="0.780" stop-color="#e60000"/><stop offset="0.874" stop-color="#e80000"/><stop offset="0.921" stop-color="#e30000"/><stop offset="0.967" stop-color="#cc0000"/></linearGradient><linearGradient id="h53" x1="0" y1="0" x2="0" y2="1"><stop offset="0.033" stop-color="#ff3800"/><stop offset="0.126" stop-color="#ff4100"/><stop offset="0.220" stop-color="#ff4c00"/><stop offset="0.266" stop-color="#ff5500"/><stop offset="0.285" stop-color="#ff7300"/><stop offset="0.297" stop-color="#ffa000"/><stop offset="0.308" stop-color="#ffe600"/><stop offset="0.320" stop-color="#beff41"/><stop offset="0.332" stop-color="#5dffa2"/><stop offset="0.343" stop-color="#09fff6"/><stop offset="0.355" stop-color="#00d1ff"/><stop offset="0.367" stop-color="#00baff"/><stop offset="0.379" stop-color="#00b9ff"/><stop offset="0.390" stop-color="#00c8ff"/><stop offset="0.402" stop-color="#00f3ff"/><stop offset="0.414" stop-color="#4dffb2"/><stop offset="0.425" stop-color="#c7ff38"/><stop offset="0.437" stop-color="#ffd500"/><stop offset="0.449" stop-color="#ffa000"/><stop offset="0.460" stop-color="#ff7e00"/><stop offset="0.472" stop-color="#ff6300"/><stop offset="0.484" stop-color="#ff4d00"/><stop offset="0.495" stop-color="#ff3b00"/><stop offset="0.507" stop-color="#ff2d00"/><stop offset="0.519" stop-color="#ff2200"/><stop offset="0.530" stop-color="#ff1900"/><stop offset="0.542" stop-color="#ff1100"/><stop offset="0.554" stop-color="#ff0b00"/><stop offset="0.575" stop-color="#ff0000"/><stop offset="0.612" stop-color="#f20000"/><stop offset="0.650" stop-color="#ed0000"/><stop offset="0.687" stop-color="#eb0000"/><stop offset="0.780" stop-color="#ea0000"/><stop offset="0.874" stop-color="#eb0000"/><stop offset="0.921" stop-color="#e70000"/><stop offset="0.967" stop-color="#d00000"/></linearGradient><linearGradient id="h54" x1="0" y1="0" x2="0" y2="1"><stop offset="0.033" stop-color="#ff3800"/><stop offset="0.126" stop-color="#ff4100"/><stop offset="0.220" stop-color="#ff4c00"/><stop offset="0.266" stop-color="#ff5500"/><stop offset="0.285" stop-color="#ff7300"/><stop offset="0.297" stop-color="#ff9f00"/><stop offset="0.308" stop-color="#ffe300"/><stop offset="0.320" stop-color="#c3ff3c"/><stop offset="0.332" stop-color="#65ff9a"/><stop offset="0.343" stop-color="#14ffeb"/><stop offset="0.355" stop-color="#00deff"/><stop offset="0.367" stop-color="#00c9ff"/><stop offset="0.379" stop-color="#00c8ff"/><stop offset="0.390" stop-color="#00d8ff"/><stop offset="0.402" stop-color="#07fff8"/><stop offset="0.414" stop-color="#64ff9b"/><stop offset="0.425" stop-color="#ddff22"/><stop offset="0.437" stop-color="#ffc600"/><stop offset="0.449" stop-color="#ff9700"/><stop offset="0.460" stop-color="#ff7700"/><stop offset="0.472" stop-color="#ff5e00"/><stop offset="0.484" stop-color="#ff4900"/><stop offset="0.495" stop-color="#ff3900"/><stop offset="0.507" stop-color="#ff2c00"/><stop offset="0.519" stop-color="#ff2200"/><stop offset="0.530" stop-color="#ff1a00"/><stop offset="0.542" stop-color="#ff1300"/><stop offset="0.554" stop-color="#ff0c00"/><stop offset="0.575" stop-color="#ff0300"/><stop offset="0.612" stop-color="#f50000"/><stop offset="0.650" stop-color="#f00000"/><stop offset="0.687" stop-color="#ef0000"/><stop offset="0.780" stop-color="#ee0000"/><stop offset="0.874" stop-color="#ef0000"/><stop offset="0.921" stop-color="#ea0000"/><stop offset="0.967" stop-color="#d30000"/></linearGradient><linearGradient id="h55" x1="0" y1="0" x2="0" y2="1"><stop offset="0.033" stop-color="#ff3800"/><stop offset="0.126" stop-color="#ff4100"/><stop offset="0.220" stop-color="#ff4c00"/><stop offset="0.266" stop-color="#ff5400"/><stop offset="0.285" stop-color="#ff7200"/><stop offset="0.297" stop-color="#ff9c00"/><stop offset="0.308" stop-color="#ffde00"/><stop offset="0.320" stop-color="#ccff33"/><stop offset="0.332" stop-color="#72ff8d"/><stop offset="0.343" stop-color="#25ffda"/><stop offset="0.355" stop-color="#00f2ff"/><stop offset="0.367" stop-color="#00deff"/><stop offset="0.379" stop-color="#00deff"/><stop offset="0.390" stop-color="#00eeff"/><stop offset="0.402" stop-color="#1effe1"/><stop offset="0.414" stop-color="#7eff81"/><stop offset="0.425" stop-color="#f4ff0b"/><stop offset="0.437" stop-color="#ffb800"/><stop offset="0.449" stop-color="#ff8e00"/><stop offset="0.460" stop-color="#ff7100"/><stop offset="0.472" stop-color="#ff5900"/><stop offset="0.484" stop-color="#ff4600"/><stop offset="0.495" stop-color="#ff3700"/><stop offset="0.507" stop-color="#ff2b00"/><stop offset="0.519" stop-color="#ff2200"/><stop offset="0.530" stop-color="#ff1a00"/><stop offset="0.542" stop-color="#ff1400"/><stop offset="0.554" stop-color="#ff0e00"/><stop offset="0.575" stop-color="#ff0500"/><stop offset="0.612" stop-color="#f80000"/><stop offset="0.650" stop-color="#f30000"/><stop offset="0.687" stop-color="#f20000"/><stop offset="0.780" stop-color="#f10000"/><stop offset="0.874" stop-color="#f20000"/><stop offset="0.921" stop-color="#ed0000"/><stop offset="0.967" stop-color="#d60000"/></linearGradient><linearGradient id="h56" x1="0" y1="0" x2="0" y2="1"><stop offset="0.033" stop-color="#ff3800"/><stop offset="0.126" stop-color="#ff4100"/><stop offset="0.220" stop-color="#ff4c00"/><stop offset="0.266" stop-color="#ff5400"/><stop offset="0.285" stop-color="#ff6e00"/><stop offset="0.297" stop-color="#ff9400"/><stop offset="0.308" stop-color="#ffcf00"/><stop offset="0.320" stop-color="#e3ff1c"/><stop offset="0.332" stop-color="#93ff6c"/><stop offset="0.343" stop-color="#4fffb0"/><stop offset="0.355" stop-color="#23ffdc"/><stop offset="0.367" stop-color="#11ffee"/><stop offset="0.379" stop-color="#11ffee"/><stop offset="0.390" stop-color="#20ffdf"/><stop offset="0.402" stop-color="#4effb1"/><stop offset="0.414" stop-color="#a8ff57"/><stop offset="0.425" stop-color="#ffec00"/><stop offset="0.437" stop-color="#ffa600"/><stop offset="0.449" stop-color="#ff8200"/><stop offset="0.460" stop-color="#ff6800"/><stop offset="0.472" stop-color="#ff5300"/><stop offset="0.484" stop-color="#ff4200"/><stop offset="0.495" stop-color="#ff3500"/><stop offset="0.507" stop-color="#ff2a00"/><stop offset="0.519" stop-color="#ff2200"/><stop offset="0.530" stop-color="#ff1b00"/><stop offset="0.542" stop-color="#ff1500"/><stop offset="0.554" stop-color="#ff0f00"/><stop offset="0.575" stop-color="#ff0700"/><stop offset="0.612" stop-color="#fa0000"/><stop offset="0.650" stop-color="#f50000"/><stop offset="0.687" stop-color="#f40000"/><stop offset="0.780" stop-color="#f30000"/><stop offset="0.874" stop-color="#f40000"/><stop offset="0.921" stop-color="#ef0000"/><stop offset="0.967" stop-color="#d80000"/></linearGradient><linearGradient id="h57" x1="0" y1="0" x2="0" y2="1"><stop offset="0.033" stop-color="#ff3800"/><stop offset="0.126" stop-color="#ff4100"/><stop offset="0.220" stop-color="#ff4c00"/><stop offset="0.266" stop-color="#ff5300"/><stop offset="0.285" stop-color="#ff6b00"/><stop offset="0.297" stop-color="#ff8d00"/><stop offset="0.308" stop-color="#ffc200"/><stop offset="0.320" stop-color="#f8ff07"/><stop offset="0.332" stop-color="#b0ff4f"/><stop offset="0.343" stop-color="#73ff8c"/><stop offset="0.355" stop-color="#4cffb3"/><stop offset="0.367" stop-color="#3cffc3"/><stop offset="0.379" stop-color="#3cffc3"/><stop offset="0.390" stop-color="#4affb5"/><stop offset="0.402" stop-color="#75ff8a"/><stop offset="0.414" stop-color="#c8ff37"/><stop offset="0.425" stop-color="#ffd600"/><stop offset="0.437" stop-color="#ff9900"/><stop offset="0.449" stop-color="#ff7900"/><stop offset="0.460" stop-color="#ff6100"/><stop offset="0.472" stop-color="#ff4e00"/><stop offset="0.484" stop-color="#ff3f00"/><stop offset="0.495" stop-color="#ff3300"/><stop offset="0.507" stop-color="#ff2a00"/><stop offset="0.519" stop-color="#ff2200"/><stop offset="0.530" stop-color="#ff1b00"/><stop offset="0.542" stop-color="#ff1500"/><stop offset="0.554" stop-color="#ff1000"/><stop offset="0.575" stop-color="#ff0800"/><stop offset="0.612" stop-color="#fb0000"/><stop offset="0.650" stop-color="#f70000"/><stop offset="0.687" stop-color="#f60000"/><stop offset="0.780" stop-color="#f50000"/><stop offset="0.874" stop-color="#f60000"/><stop offset="0.921" stop-color="#f10000"/><stop offset="0.967" stop-color="#d90000"/></linearGradient><linearGradient id="h58" x1="0" y1="0" x2="0" y2="1"><stop offset="0.033" stop-color="#ff3800"/><stop offset="0.126" stop-color="#ff4100"/><stop offset="0.220" stop-color="#ff4c00"/><stop offset="0.266" stop-color="#ff5300"/><stop offset="0.285" stop-color="#ff6a00"/><stop offset="0.297" stop-color="#ff8c00"/><stop offset="0.308" stop-color="#ffbf00"/><stop offset="0.320" stop-color="#fcff03"/><stop offset="0.332" stop-color="#b6ff49"/><stop offset="0.343" stop-color="#7aff85"/><stop offset="0.355" stop-color="#53ffac"/><stop offset="0.367" stop-color="#43ffbc"/><stop offset="0.379" stop-color="#44ffbb"/><stop offset="0.390" stop-color="#52ffad"/><stop offset="0.402" stop-color="#7cff83"/><stop offset="0.414" stop-color="#cdff32"/><stop offset="0.425" stop-color="#ffd300"/><stop offset="0.437" stop-color="#ff9700"/><stop offset="0.449" stop-color="#ff7700"/><stop offset="0.460" stop-color="#ff6000"/><stop offset="0.472" stop-color="#ff4e00"/><stop offset="0.484" stop-color="#ff3f00"/><stop offset="0.495" stop-color="#ff3300"/><stop offset="0.507" stop-color="#ff2900"/><stop offset="0.519" stop-color="#ff2200"/><stop offset="0.530" stop-color="#ff1b00"/><stop offset="0.542" stop-color="#ff1500"/><stop offset="0.554" stop-color="#ff1000"/><stop offset="0.575" stop-color="#ff0800"/><stop offset="0.612" stop-color="#fc0000"/><stop offset="0.650" stop-color="#f70000"/><stop offset="0.687" stop-color="#f60000"/><stop offset="0.780" stop-color="#f50000"/><stop offset="0.874" stop-color="#f60000"/><stop offset="0.921" stop-color="#f10000"/><stop offset="0.967" stop-color="#d90000"/></linearGradient><linearGradient id="h59" x1="0" y1="0" x2="0" y2="1"><stop offset="0.033" stop-color="#ff3800"/><stop offset="0.126" stop-color="#ff4100"/><stop offset="0.220" stop-color="#ff4c00"/><stop offset="0.266" stop-color="#ff5300"/><stop offset="0.285" stop-color="#ff6a00"/><stop offset="0.297" stop-color="#ff8c00"/><stop offset="0.308" stop-color="#ffbf00"/><stop offset="0.320" stop-color="#fcff03"/><stop offset="0.332" stop-color="#b6ff49"/><stop offset="0.343" stop-color="#7aff85"/><stop offset="0.355" stop-color="#53ffac"/><stop offset="0.367" stop-color="#43ffbc"/><stop offset="0.379" stop-color="#44ffbb"/><stop offset="0.390" stop-color="#52ffad"/><stop offset="0.402" stop-color="#7cff83"/><stop offset="0.414" stop-color="#cdff32"/><stop offset="0.425" stop-color="#ffd300"/><stop offset="0.437" stop-color="#ff9700"/><stop offset="0.449" stop-color="#ff7700"/><stop offset="0.460" stop-color="#ff6000"/><stop offset="0.472" stop-color="#ff4e00"/><stop offset="0.484" stop-color="#ff3f00"/><stop offset="0.495" stop-color="#ff3300"/><stop offset="0.507" stop-color="#ff2900"/><stop offset="0.519" stop-color="#ff2200"/><stop offset="0.530" stop-color="#ff1b00"/><stop offset="0.542" stop-color="#ff1500"/><stop offset="0.554" stop-color="#ff1000"/><stop offset="0.575" stop-color="#ff0800"/><stop offset="0.612" stop-color="#fc0000"/><stop offset="0.650" stop-color="#f70000"/><stop offset="0.687" stop-color="#f60000"/><stop offset="0.780" stop-color="#f50000"/><stop offset="0.874" stop-color="#f60000"/><stop offset="0.921" stop-color="#f10000"/><stop offset="0.967" stop-color="#d90000"/></linearGradient><clipPath id="hclip"><rect x="1170.2" y="103.2" width="220.60" height="171.30"/></clipPath><filter id="hblur" x="-5%" y="-5%" width="110%" height="110%"><feGaussianBlur stdDeviation="2.2 0.8"/></filter></defs>
<rect width="1490" height="595" fill="#fff"/>
<g id="panel-a">
<rect x="67" y="51.5" width="148" height="124.5" fill="url(#gA)"/>
<rect x="67" y="174.8" width="149" height="2.5" fill="#000"/>
<rect x="229" y="96.5" width="152" height="87.5" fill="url(#gB)"/>
<rect x="228.6" y="183" width="152.8" height="2.4" fill="#000"/>
<rect x="67" y="387" width="148" height="125" fill="url(#gC)"/>
<rect x="67" y="386.1" width="148.6" height="2.5" fill="#000"/>
<rect x="229" y="411.5" width="152" height="87.2" fill="url(#gD)"/>
<rect x="228.6" y="410.4" width="152.8" height="2.5" fill="#000"/>
<text transform="translate(17.07,79.69) scale(0.8866,1)" font-family='"Liberation Sans", sans-serif' font-size="55.71" font-weight="bold" stroke="#000" stroke-width="0.3" stroke-linejoin="round">a</text>
<text transform="translate(234.44,137.47) scale(1.0253,1)" font-family='"DejaVu Sans", "Liberation Sans", sans-serif' font-size="25.03" fill="#f6b98a" stroke="#f6b98a" stroke-width="0.3" stroke-linejoin="round">extraction</text>
<path d="M186.2,181 V234" stroke="#c0504d" stroke-width="2.3" fill="none"/>
<path d="M182.2,231.5 L190.2,231.5 L186.2,244.5 Z" fill="#c0504d"/>
<path d="M186,373 V290" stroke="#c0504d" stroke-width="2.4" fill="none"/>
<path d="M181.8,292 L190.2,292 L186,279 Z" fill="#c0504d"/>
<path d="M254.4,189.0 L237.6,245.1" stroke="#1b3a66" stroke-width="2.7" fill="none"/><path d="M233.8,242.9 L241.9,245.3 L234.4,255.6 Z" fill="#1b3a66"/>
<path d="M197.0,373.0 L224.5,290.4" stroke="#1b3a66" stroke-width="2.8" fill="none"/><path d="M228.2,292.7 L220.2,290.0 L228.0,280.0 Z" fill="#1b3a66"/>
<path d="M279.2,200 V401" stroke="#60497a" stroke-width="2.4" fill="none"/>
<path d="M275.2,202 L283.2,202 L279.2,189.5 Z" fill="#60497a"/>
<path d="M275.2,399 L283.2,399 L279.2,411.5 Z" fill="#60497a"/>
<path d="M181.6,253 H230.5" stroke="#000" stroke-width="1.6" stroke-dasharray="1.6 1.8" fill="none"/>
<path d="M181.6,259.6 H230.5" stroke="#000" stroke-width="1.6" stroke-dasharray="1.6 1.8" fill="none"/>
<path d="M181.6,266.4 H230.5" stroke="#000" stroke-width="1.6" stroke-dasharray="1.6 1.8" fill="none"/>
<path d="M181.6,273 H230.5" stroke="#000" stroke-width="1.6" stroke-dasharray="1.6 1.8" fill="none"/>
<path d="M200,147.2 Q228,141.5 250,156.5" stroke="#f07c14" stroke-width="6" fill="none"/>
<path d="M243,162.5 L253.5,148 L262.5,163.5 Z" fill="#f07c14"/>
<circle cx="181.6" cy="155.6" r="15.2" fill="#fff" stroke="#000" stroke-width="1.6"/>
<circle cx="279.3" cy="168.6" r="15.2" fill="#fff" stroke="#000" stroke-width="1.6"/>
<circle cx="183.6" cy="405.2" r="15.5" fill="#000" stroke="#fff" stroke-width="1.6"/>
<circle cx="277.6" cy="430.2" r="15.5" fill="#000" stroke="#fff" stroke-width="1.6"/>
<text transform="translate(174.21,164.73) scale(1.2116,1)" font-family='"Liberation Sans", sans-serif' font-size="26.21">−</text>
<text transform="translate(271.99,177.73) scale(1.2273,1)" font-family='"Liberation Sans", sans-serif' font-size="26.21">−</text>
<text transform="translate(172.38,418.01) scale(0.9143,1)" font-family='"Liberation Sans", sans-serif' font-size="36.12" fill="#fff" stroke="#fff" stroke-width="0.3" stroke-linejoin="round">+</text>
<text transform="translate(269.38,443.01) scale(0.9143,1)" font-family='"Liberation Sans", sans-serif' font-size="36.12" fill="#fff" stroke="#fff" stroke-width="0.3" stroke-linejoin="round">+</text>
<text transform="translate(172.04,321.37) rotate(-90) scale(0.9089,1)" font-family='"Liberation Sans", sans-serif' font-size="20.61" fill="#1f4e79" stroke="#1f4e79" stroke-width="0.3" stroke-linejoin="round">surface rec.</text>
<text transform="translate(327.02,373.57) rotate(-90)" font-family='"Liberation Sans", sans-serif' font-size="18.45" fill="#1f4e79" stroke="#1f4e79" stroke-width="0.3" stroke-linejoin="round">Transport layer rec.</text>
<text transform="translate(217.8,371.5) rotate(-71.5) scale(0.965,1)" font-family='"Liberation Sans", sans-serif' font-style="italic" font-size="19.5" fill="#1f4e79">across-interface rec.</text>
<text transform="translate(134.00,519.92) scale(1.0073,1)" font-family='"Liberation Sans", sans-serif' font-size="33.12" stroke="#000" stroke-width="0.3" stroke-linejoin="round">Pero</text>
<text transform="translate(274.06,516.11) scale(0.8286,1)" font-family='"Liberation Sans", sans-serif' font-size="33.64" stroke="#000" stroke-width="0.3" stroke-linejoin="round">C</text><text transform="translate(294.85,525.59)" font-family='"Liberation Sans", sans-serif' font-size="26.01" stroke="#000" stroke-width="0.3" stroke-linejoin="round">60</text>
</g>
<g id="panel-b">
<text transform="translate(441.77,78.57) scale(1.0278,1)" font-family='"Liberation Sans", sans-serif' font-size="52.79" font-weight="bold" stroke="#000" stroke-width="0.6" stroke-linejoin="round">b</text>
<path d="M501.5,171 L520,175" stroke="#a8e0fb" stroke-width="1" stroke-dasharray="3 2" fill="none"/>
<polyline points="520.8,152.0 521.8,160.0 523.2,168.0 525.0,173.1 526.5,174.9 528.0,175.7 529.4,176.8 530.8,177.4 532.2,176.7 533.6,177.1 535.0,179.4 536.5,178.5 537.9,178.8 539.4,180.9 540.9,180.1 542.3,181.3 543.8,180.8 545.2,181.6 546.7,180.8 548.2,182.3 549.6,183.2 551.1,182.8 552.6,183.6 554.0,183.8 555.5,182.8 557.1,184.8 558.6,184.8 560.2,184.5 561.7,184.3 563.3,186.5 564.8,186.0 566.4,187.0 567.9,187.7 569.5,187.7 571.0,188.6 572.6,187.8 574.1,189.1 575.7,188.7 577.3,190.1 578.8,190.3 580.4,188.9 581.9,189.3 583.5,189.8 585.1,191.7 586.6,190.9 588.2,191.6 589.8,191.2 591.3,192.0 592.9,192.0 594.4,192.3 596.0,193.1 597.5,193.4 599.1,194.4 600.6,194.2 602.2,195.1 603.7,195.3 605.2,195.9 606.8,195.5 608.3,194.7 609.8,196.5 611.4,197.1 612.9,197.3 614.5,196.8 616.0,197.5 617.5,196.7 619.1,198.3 620.6,198.1 622.2,197.8 623.7,197.6 625.2,199.6 626.8,200.2 628.3,198.6 629.8,200.4 631.4,199.9 632.9,199.6 634.5,200.2 636.0,201.6 637.5,202.1 639.1,200.6 640.6,202.1 642.1,201.2 643.7,202.9 645.2,202.4 646.7,203.9 648.3,204.4 649.8,203.6 651.3,205.0 652.9,203.8 654.4,203.6 655.9,205.0 657.4,204.0 659.0,204.7 660.5,205.4 662.0,206.2 663.5,205.4 665.0,205.5 666.6,207.6 668.1,206.6 669.6,208.3 671.1,208.5 672.6,207.6 674.2,208.1 675.7,208.5 677.2,209.1 678.7,209.2 680.2,209.4 681.8,209.9 683.3,210.9 684.8,210.2 686.3,210.3 687.8,211.2 689.4,210.4 690.9,210.9 692.4,212.6 693.9,211.9 695.4,212.3 697.0,211.4 698.5,212.5 700.0,213.2 701.5,212.2 703.0,213.8 704.5,214.2 706.1,213.2 707.6,214.7 709.1,214.7 710.6,215.4 712.1,215.0 713.6,216.0 715.2,216.4 716.7,215.1 718.2,215.5 719.7,217.1 721.2,218.0 722.7,216.8 724.2,217.5 725.8,218.1 727.3,217.8 728.8,218.2 730.3,218.3 731.8,218.8 733.3,219.5 734.8,219.2 736.4,219.6 737.9,220.8 739.4,219.4 740.9,220.9 742.4,221.6 743.9,220.9 745.5,221.0 747.0,222.6 748.5,221.6 750.0,221.8 751.5,222.7 753.0,223.5 754.5,222.5 755.9,223.3 757.4,223.7 758.9,225.1 760.4,224.5 761.9,225.7 763.4,224.5 764.8,225.2 766.3,226.2 767.8,227.0 769.3,226.4 770.8,226.2 772.3,226.3 773.7,227.5 775.2,227.0 776.7,228.7 778.2,229.1 779.7,227.9 781.2,228.4 782.6,229.9 784.1,229.9 785.6,230.5 787.1,229.8 788.6,229.7 790.1,230.3 791.5,231.7 793.0,230.9 794.5,231.4 796.0,231.8 797.5,232.2 798.9,232.5 800.4,234.0 801.8,232.6 803.3,232.7 804.8,235.1 806.2,235.3 807.7,235.9 809.1,235.0 810.6,236.5 812.1,236.8 813.5,235.6 815.0,237.1 816.4,237.7 817.9,237.6 819.4,237.7 820.8,237.5 822.3,238.0 823.7,238.1 825.2,238.1 826.6,239.6 828.1,239.3 829.6,240.8 831.0,239.4 832.5,241.7 833.9,241.6 835.4,242.4 836.9,242.7 838.3,243.1 839.8,242.7 841.2,241.8 842.7,243.8 844.2,242.9 845.6,243.5 847.1,244.7 848.5,244.7 850.0,244.8 851.5,246.3 853.0,246.0 854.5,245.8 856.0,246.0 857.5,247.7 859.0,247.2 860.5,248.2 862.0,247.7 863.5,247.7 865.0,248.8 866.5,249.8 868.0,248.8 869.5,250.5 871.0,251.2 872.5,251.3 874.0,251.7 875.5,250.3 877.0,252.0 878.5,252.9 880.0,251.5 881.5,252.4 883.0,252.7 884.5,253.7 886.0,253.8 887.5,254.3 889.0,255.4 890.5,254.0 892.0,254.5 893.5,255.1 895.0,255.4 896.5,255.7 898.0,258.0" fill="none" stroke="#92d5fd" stroke-width="5.0" stroke-linejoin="round"/>
<path d="M520.6,151 V170" stroke="#92d5fd" stroke-width="3.2" fill="none" stroke-linecap="round"/>
<path d="M519.3,320 V157" stroke="#000" stroke-width="3" stroke-dasharray="26 2.5 4 4" fill="none"/>
<path d="M527,159.5 Q534,166.5 560,170 L596,174.3 L654,181 L760,188.3 L898,196.2" stroke="#000" stroke-width="3.8" stroke-dasharray="13.5 6 4 6.5" stroke-dashoffset="7" fill="none"/>
<polyline points="521.0,156.0 522.2,220.0 524.3,260.5 525.3,301.0 527.0,313.0 528.3,320.0" fill="none" stroke="#8585f6" stroke-width="3.4" stroke-linejoin="round"/>
<polyline points="528.7,319.3 528.6,321.8 528.8,323.9 529.4,326.3 529.5,327.7 529.8,329.6 530.4,332.7 530.8,333.4 531.2,335.7 532.4,338.3 532.7,340.2 533.7,341.3 534.0,343.3 535.1,345.0 535.7,346.9 535.7,348.9 537.1,349.7 537.3,352.3 538.7,355.2 538.5,356.8 539.9,356.9 540.0,358.2 541.3,361.3 542.1,363.3 542.4,364.9 542.9,364.8 543.6,366.1 543.3,370.1 543.8,369.7 544.5,373.8 545.7,372.7 548.2,374.6 549.2,378.0 550.2,380.6 550.6,381.7 550.3,383.2 552.5,384.7 552.5,386.4 555.6,385.6 555.0,389.0 557.3,389.5 556.5,391.2 558.6,394.7 558.9,394.9 559.8,396.5 560.8,397.1 561.9,402.3 562.6,403.1 562.8,404.5 565.5,406.1 565.7,406.9 567.2,410.2 566.7,408.1 569.8,413.2 570.1,412.5 571.9,412.8 571.6,414.3 573.7,416.3 573.7,419.4 577.2,419.0 577.5,421.1 579.2,423.4 578.3,423.1 578.5,425.9 581.0,425.9 582.0,428.1 584.7,428.7 586.6,431.9 586.3,433.3 588.3,436.7 588.4,436.4 590.2,439.9 590.1,440.8 593.4,440.8 591.5,441.1 594.3,445.1 596.3,447.7 594.3,445.5 595.3,447.0 598.1,452.4 599.8,450.5 600.6,452.3 599.7,456.4 599.1,454.2 603.2,457.0 602.0,460.4 604.3,458.5 603.6,462.7 605.2,462.9 606.5,469.3 606.5,468.3 606.8,467.8 611.0,467.9 613.6,474.3 611.5,475.7 614.4,475.8 618.0,473.1 619.4,475.9 621.7,473.8 623.2,478.8 624.6,476.4 623.6,476.6 626.5,478.5 629.9,477.9" fill="none" stroke="#8585f6" stroke-width="4.6" stroke-linejoin="round"/>
<path d="M519.7,478 V399" stroke="#8c8cf2" stroke-width="3.8" fill="none"/>
<path d="M519.7,399 V156" stroke="#3358fa" stroke-width="3.6" fill="none" opacity="0.85"/>
<path d="M501.5,308 L519,331 L575.7,413 L607,458" stroke="#5858e0" stroke-width="1.1" stroke-dasharray="4 2.5" fill="none"/>
<path d="M578.0,469.0 L861.3,160.7" stroke="#000" stroke-width="1.9" fill="none"/><path d="M864.1,164.7 L857.1,158.3 L870.4,150.8 Z" fill="#000"/>
<rect x="501" y="99.4" width="397" height="378.6" fill="none" stroke="#000" stroke-width="1.6"/>
<path d="M501,149.4 h5.6 M898,149.4 h-5.6 M501,264.3 h3.2 M898,264.3 h-3.2 M501,235.4 h3.2 M898,235.4 h-3.2 M501,214.8 h3.2 M898,214.8 h-3.2 M501,198.9 h3.2 M898,198.9 h-3.2 M501,185.9 h3.2 M898,185.9 h-3.2 M501,174.9 h3.2 M898,174.9 h-3.2 M501,165.3 h3.2 M898,165.3 h-3.2 M501,156.9 h3.2 M898,156.9 h-3.2 M501,313.8 h5.6 M898,313.8 h-5.6 M501,428.7 h3.2 M898,428.7 h-3.2 M501,399.8 h3.2 M898,399.8 h-3.2 M501,379.2 h3.2 M898,379.2 h-3.2 M501,363.3 h3.2 M898,363.3 h-3.2 M501,350.3 h3.2 M898,350.3 h-3.2 M501,339.3 h3.2 M898,339.3 h-3.2 M501,329.7 h3.2 M898,329.7 h-3.2 M501,321.3 h3.2 M898,321.3 h-3.2 M520.0,99.4 v5.8 M520.0,478 v-5.8 M709.0,99.4 v5.8 M709.0,478 v-5.8" stroke="#000" stroke-width="1.5" fill="none"/>
<text transform="translate(483.69,157.70) scale(0.4939,1)" font-family='"Liberation Sans", sans-serif' font-size="29.96" stroke="#000" stroke-width="0.6" stroke-linejoin="round">1</text>
<text transform="translate(459.85,323.91) scale(0.8108,1)" font-family='"Liberation Sans", sans-serif' font-size="29.26" stroke="#000" stroke-width="0.6" stroke-linejoin="round">0.1</text>
<text transform="translate(445.32,487.41) scale(0.8477,1)" font-family='"Liberation Sans", sans-serif' font-size="28.83" stroke="#000" stroke-width="0.6" stroke-linejoin="round">0.01</text>
<text transform="translate(513.35,509.00) scale(0.8043,1)" font-family='"Liberation Sans", sans-serif' font-size="29.68" stroke="#000" stroke-width="0.6" stroke-linejoin="round">0</text>
<text transform="translate(687.98,509.00) scale(0.8623,1)" font-family='"Liberation Sans", sans-serif' font-size="29.68" stroke="#000" stroke-width="0.6" stroke-linejoin="round">100</text>
<text transform="translate(875.69,509.00) scale(0.8806,1)" font-family='"Liberation Sans", sans-serif' font-size="29.68" stroke="#000" stroke-width="0.6" stroke-linejoin="round">200</text>
<text transform="translate(634.59,556.82) scale(0.8309,1)" font-family='"Liberation Sans", sans-serif' font-size="37.96" stroke="#000" stroke-width="0.6" stroke-linejoin="round">Time (ns)</text>
<text transform="translate(452.10,390.50) rotate(-90) scale(1.1355,1)" font-family='"Liberation Sans", sans-serif' font-size="34.70" stroke="#000" stroke-width="0.3" stroke-linejoin="round">Norm TRPL</text>
<text transform="translate(713.38,134.00) scale(0.9001,1)" font-family='"Liberation Sans", sans-serif' font-size="29.38" stroke="#000" stroke-width="0.6" stroke-linejoin="round">perovskite</text>
<text transform="translate(737.57,167.51) scale(0.8278,1)" font-family='"Liberation Serif", serif' font-size="28.72" stroke="#000" stroke-width="0.6" stroke-linejoin="round">τ</text><text transform="translate(748.32,167.49) scale(0.8527,1)" font-family='"Liberation Sans", sans-serif' font-size="30.81" stroke="#000" stroke-width="0.6" stroke-linejoin="round">~500ns</text>
<text transform="translate(619.26,253.97) scale(0.7898,1)" font-family='"Liberation Sans", sans-serif' font-size="32.52" fill="#4db5fb" stroke="#4db5fb" stroke-width="0.6" stroke-linejoin="round">w/ LIF/C</text><text transform="translate(715.93,261.09) scale(0.8211,1)" font-family='"Liberation Sans", sans-serif' font-size="21.20" fill="#4db5fb" stroke="#4db5fb" stroke-width="0.6" stroke-linejoin="round">60</text>
<text transform="translate(631.55,292.99) scale(0.7728,1)" font-family='"Liberation Serif", serif' font-size="31.49" fill="#4db5fb" stroke="#4db5fb" stroke-width="0.6" stroke-linejoin="round">τ</text><text transform="translate(643.03,292.98) scale(0.8086,1)" font-family='"Liberation Sans", sans-serif' font-size="32.23" fill="#4db5fb" stroke="#4db5fb" stroke-width="0.6" stroke-linejoin="round">~180ns</text>
<text transform="translate(643.46,422.49) scale(0.7983,1)" font-family='"Liberation Sans", sans-serif' font-size="31.43" fill="#0000fa" stroke="#0000fa" stroke-width="0.6" stroke-linejoin="round">w/ C</text><text transform="translate(693.92,430.59) scale(0.8194,1)" font-family='"Liberation Sans", sans-serif' font-size="21.48" fill="#0000fa" stroke="#0000fa" stroke-width="0.6" stroke-linejoin="round">60</text>
<text transform="translate(629.24,460.99) scale(0.7960,1)" font-family='"Liberation Serif", serif' font-size="31.28" fill="#0000fa" stroke="#0000fa" stroke-width="0.6" stroke-linejoin="round">τ</text><text transform="translate(640.21,460.98) scale(0.8186,1)" font-family='"Liberation Sans", sans-serif' font-size="32.23" fill="#0000fa" stroke="#0000fa" stroke-width="0.6" stroke-linejoin="round">~26ns</text>
</g>
<g id="panel-c">
<text transform="translate(919.60,77.89) scale(1.0156,1)" font-family='"Liberation Sans", sans-serif' font-size="53.42" font-weight="bold" stroke="#000" stroke-width="0.35" stroke-linejoin="round">c</text>
<g clip-path="url(#hclip)"><g filter="url(#hblur)"><rect x="1162.20" y="97.20" width="5.10" height="183.30" fill="url(#h0)"/><rect x="1166.70" y="97.20" width="5.10" height="183.30" fill="url(#h1)"/><rect x="1171.20" y="97.20" width="2.60" height="183.30" fill="url(#h2)"/><rect x="1173.20" y="97.20" width="2.60" height="183.30" fill="url(#h3)"/><rect x="1175.20" y="97.20" width="2.60" height="183.30" fill="url(#h4)"/><rect x="1177.20" y="97.20" width="2.60" height="183.30" fill="url(#h5)"/><rect x="1179.20" y="97.20" width="2.60" height="183.30" fill="url(#h6)"/><rect x="1181.20" y="97.20" width="2.60" height="183.30" fill="url(#h7)"/><rect x="1183.20" y="97.20" width="2.60" height="183.30" fill="url(#h8)"/><rect x="1185.20" y="97.20" width="2.60" height="183.30" fill="url(#h9)"/><rect x="1187.20" y="97.20" width="2.60" height="183.30" fill="url(#h10)"/><rect x="1189.20" y="97.20" width="2.60" height="183.30" fill="url(#h11)"/><rect x="1191.20" y="97.20" width="2.60" height="183.30" fill="url(#h12)"/><rect x="1193.20" y="97.20" width="2.60" height="183.30" fill="url(#h13)"/><rect x="1195.20" y="97.20" width="2.60" height="183.30" fill="url(#h14)"/><rect x="1197.20" y="97.20" width="5.10" height="183.30" fill="url(#h15)"/><rect x="1201.70" y="97.20" width="5.10" height="183.30" fill="url(#h16)"/><rect x="1206.20" y="97.20" width="5.10" height="183.30" fill="url(#h17)"/><rect x="1210.70" y="97.20" width="5.10" height="183.30" fill="url(#h18)"/><rect x="1215.20" y="97.20" width="5.10" height="183.30" fill="url(#h19)"/><rect x="1219.70" y="97.20" width="5.10" height="183.30" fill="url(#h20)"/><rect x="1224.20" y="97.20" width="5.10" height="183.30" fill="url(#h21)"/><rect x="1228.70" y="97.20" width="5.10" height="183.30" fill="url(#h22)"/><rect x="1233.20" y="97.20" width="5.10" height="183.30" fill="url(#h23)"/><rect x="1237.70" y="97.20" width="5.10" height="183.30" fill="url(#h24)"/><rect x="1242.20" y="97.20" width="5.10" height="183.30" fill="url(#h25)"/><rect x="1246.70" y="97.20" width="5.10" height="183.30" fill="url(#h26)"/><rect x="1251.20" y="97.20" width="5.10" height="183.30" fill="url(#h27)"/><rect x="1255.70" y="97.20" width="5.10" height="183.30" fill="url(#h28)"/><rect x="1260.20" y="97.20" width="5.10" height="183.30" fill="url(#h29)"/><rect x="1264.70" y="97.20" width="5.10" height="183.30" fill="url(#h30)"/><rect x="1269.20" y="97.20" width="5.10" height="183.30" fill="url(#h31)"/><rect x="1273.70" y="97.20" width="5.10" height="183.30" fill="url(#h32)"/><rect x="1278.20" y="97.20" width="5.10" height="183.30" fill="url(#h33)"/><rect x="1282.70" y="97.20" width="5.10" height="183.30" fill="url(#h34)"/><rect x="1287.20" y="97.20" width="5.10" height="183.30" fill="url(#h35)"/><rect x="1291.70" y="97.20" width="5.10" height="183.30" fill="url(#h36)"/><rect x="1296.20" y="97.20" width="5.10" height="183.30" fill="url(#h37)"/><rect x="1300.70" y="97.20" width="5.10" height="183.30" fill="url(#h38)"/><rect x="1305.20" y="97.20" width="5.10" height="183.30" fill="url(#h39)"/><rect x="1309.70" y="97.20" width="5.10" height="183.30" fill="url(#h40)"/><rect x="1314.20" y="97.20" width="5.10" height="183.30" fill="url(#h41)"/><rect x="1318.70" y="97.20" width="5.10" height="183.30" fill="url(#h42)"/><rect x="1323.20" y="97.20" width="5.10" height="183.30" fill="url(#h43)"/><rect x="1327.70" y="97.20" width="5.10" height="183.30" fill="url(#h44)"/><rect x="1332.20" y="97.20" width="5.10" height="183.30" fill="url(#h45)"/><rect x="1336.70" y="97.20" width="5.10" height="183.30" fill="url(#h46)"/><rect x="1341.20" y="97.20" width="5.10" height="183.30" fill="url(#h47)"/><rect x="1345.70" y="97.20" width="5.10" height="183.30" fill="url(#h48)"/><rect x="1350.20" y="97.20" width="5.10" height="183.30" fill="url(#h49)"/><rect x="1354.70" y="97.20" width="5.10" height="183.30" fill="url(#h50)"/><rect x="1359.20" y="97.20" width="5.10" height="183.30" fill="url(#h51)"/><rect x="1363.70" y="97.20" width="5.10" height="183.30" fill="url(#h52)"/><rect x="1368.20" y="97.20" width="5.10" height="183.30" fill="url(#h53)"/><rect x="1372.70" y="97.20" width="5.10" height="183.30" fill="url(#h54)"/><rect x="1377.20" y="97.20" width="5.10" height="183.30" fill="url(#h55)"/><rect x="1381.70" y="97.20" width="5.10" height="183.30" fill="url(#h56)"/><rect x="1386.20" y="97.20" width="5.10" height="183.30" fill="url(#h57)"/><rect x="1390.70" y="97.20" width="5.10" height="183.30" fill="url(#h58)"/><rect x="1395.20" y="97.20" width="4.20" height="183.30" fill="url(#h59)"/></g></g>
<rect x="1023.3" y="102.6" width="368.70000000000005" height="368.79999999999995" fill="none" stroke="#000" stroke-width="2.4"/>
<path d="M1023.3,106.6 H1041 M1392,106.6 H1373.5 M1023.3,178.6 H1041 M1392,178.6 H1373.5 M1023.3,250.6 H1041 M1392,250.6 H1373.5 M1023.3,322.6 H1041 M1392,322.6 H1373.5 M1023.3,394.6 H1041 M1392,394.6 H1373.5 M1023.3,466.6 H1041 M1392,466.6 H1373.5 M1030.0,471.4 V453 M1119.2,471.4 V453 M1208.5,471.4 V453 M1297.8,471.4 V453 M1387.0,471.4 V453" stroke="#000" stroke-width="2" fill="none"/>
<polyline points="1029.3,309.6 1029.3,165.0" fill="none" stroke="#9c1c3c" stroke-width="6.5" stroke-linecap="round"/>
<path d="M1029.3,165.0 L1029.7,150.0 L1031.0,139.4 C1031.7,141.9 1031.8,140.8 1033.2,147.0 C1034.6,153.2 1033.8,150.2 1035.2,158.0 C1036.6,165.8 1036.1,164.6 1037.4,170.4 C1038.7,176.2 1037.5,171.0 1039.2,175.4 C1040.9,179.8 1039.8,177.8 1042.5,183.5 C1045.2,189.2 1043.9,185.7 1047.3,192.5 C1050.7,199.3 1047.5,194.8 1052.7,204.0 C1057.9,213.2 1056.8,212.0 1063.0,220.0 C1069.2,228.0 1064.6,222.3 1071.3,228.0 C1078.0,233.7 1075.3,229.7 1083.0,237.0 C1090.7,244.3 1086.1,241.6 1094.4,249.9 C1102.7,258.2 1097.8,254.3 1108.0,262.0 C1118.2,269.7 1112.9,264.4 1125.0,273.0 C1137.1,281.6 1133.2,278.2 1144.3,287.8 C1155.4,297.4 1148.2,293.0 1158.4,301.9 C1168.6,310.8 1164.5,306.8 1175.0,314.5 C1185.5,322.2 1181.0,318.7 1190.0,325.0 C1199.0,331.3 1198.0,330.5 1202.0,333.3" fill="none" stroke="#9c1c3c" stroke-width="6.5" stroke-linejoin="round"/>
<path d="M1041.0,465.0 L1041.0,186.0 L1042.6,178.3 C1043.1,180.4 1042.6,181.4 1044.4,186.2 C1046.2,191.0 1046.0,190.1 1049.5,196.3 C1053.0,202.5 1053.8,203.7 1057.6,209.4 C1061.4,215.1 1060.0,214.5 1063.6,217.5 C1067.2,220.5 1067.0,218.4 1071.0,220.7 C1075.0,223.0 1074.9,223.4 1078.5,226.3 C1082.1,229.2 1080.9,227.5 1084.6,231.4 C1088.3,235.3 1088.6,236.0 1092.2,241.0 C1095.8,246.0 1093.9,243.7 1098.2,250.2 C1102.5,256.7 1103.9,259.9 1108.2,265.3 C1112.5,270.7 1110.0,268.0 1114.3,270.4 C1118.6,272.8 1119.5,270.1 1124.4,274.4 C1129.3,278.7 1127.7,279.2 1132.5,286.5 C1137.3,293.8 1137.7,295.9 1142.5,301.6 C1147.3,307.3 1144.1,302.8 1150.6,307.7 C1157.1,312.6 1159.5,314.4 1166.8,319.8 C1174.1,325.2 1172.3,323.8 1178.0,328.0 C1183.7,332.2 1185.3,333.5 1188.0,335.5" fill="none" stroke="#f2a47c" stroke-width="6.6" stroke-linejoin="round"/>
<path d="M1068.8,445.0 L1069.2,346.0 L1070.6,346.0 L1071.4,300.0 L1072.4,228.0 L1073.5,222.0 C1075.0,224.0 1073.9,223.0 1078.1,228.1 C1082.3,233.2 1078.8,229.2 1086.2,237.2 C1093.6,245.2 1088.8,242.2 1100.2,252.2 C1111.6,262.2 1108.3,257.9 1120.4,267.3 C1132.5,276.7 1127.1,272.7 1136.5,280.4 C1145.9,288.1 1140.5,282.4 1148.6,290.5 C1156.7,298.6 1154.6,297.3 1160.7,304.7 C1166.8,312.1 1160.4,305.6 1166.8,312.7 C1173.2,319.8 1172.3,318.6 1180.0,326.0 C1187.7,333.4 1184.0,330.3 1190.0,335.0 C1196.0,339.7 1192.0,337.7 1198.0,340.0 C1204.0,342.3 1201.8,341.0 1208.0,342.0 C1214.2,343.0 1213.7,342.7 1216.5,343.0" fill="none" stroke="#88cdea" stroke-width="6.8" stroke-linejoin="round"/>
<path d="M1168.4,452.0 L1168.6,316.0 L1169.6,308.0 L1171.6,305.8 C1172.6,306.8 1172.3,306.9 1174.5,308.8 C1176.7,310.7 1174.9,309.1 1178.2,311.6 C1181.5,314.1 1180.2,311.3 1184.3,316.2 C1188.4,321.1 1186.4,319.6 1190.4,326.3 C1194.4,333.0 1192.7,331.7 1196.4,336.4 C1200.1,341.1 1196.8,338.2 1201.5,340.4 C1206.2,342.6 1204.8,340.9 1210.5,342.9 C1216.2,344.9 1211.9,342.9 1218.6,346.5 C1225.3,350.1 1223.6,349.2 1230.7,353.6 C1237.8,358.0 1236.9,357.6 1240.0,359.6 L1261.0,373.0 L1307.0,385.0 L1340.0,401.0 L1377.0,417.0 L1386.0,417.5" fill="none" stroke="#0a5cb0" stroke-width="6.6" stroke-linejoin="round"/>
<text transform="translate(969.75,119.87) scale(0.9690,1)" font-family='"Liberation Sans", sans-serif' font-size="25.09" stroke="#000" stroke-width="0.35" stroke-linejoin="round">10</text><text transform="translate(994.48,101.62) scale(0.9089,1)" font-family='"Liberation Sans", sans-serif' font-size="17.09" stroke="#000" stroke-width="0.35" stroke-linejoin="round">-1</text>
<text transform="translate(1404.72,119.87) scale(0.9850,1)" font-family='"Liberation Sans", sans-serif' font-size="25.09" stroke="#000" stroke-width="0.35" stroke-linejoin="round">10</text><text transform="translate(1430.88,100.76) scale(1.0431,1)" font-family='"Liberation Sans", sans-serif' font-size="16.61" stroke="#000" stroke-width="0.35" stroke-linejoin="round">19</text>
<text transform="translate(969.75,191.87) scale(0.9690,1)" font-family='"Liberation Sans", sans-serif' font-size="25.09" stroke="#000" stroke-width="0.35" stroke-linejoin="round">10</text><text transform="translate(994.40,173.62) scale(1.0224,1)" font-family='"Liberation Sans", sans-serif' font-size="16.85" stroke="#000" stroke-width="0.35" stroke-linejoin="round">-2</text>
<text transform="translate(1404.72,191.87) scale(0.9850,1)" font-family='"Liberation Sans", sans-serif' font-size="25.09" stroke="#000" stroke-width="0.35" stroke-linejoin="round">10</text><text transform="translate(1430.88,172.76) scale(1.0405,1)" font-family='"Liberation Sans", sans-serif' font-size="16.61" stroke="#000" stroke-width="0.35" stroke-linejoin="round">18</text>
<text transform="translate(969.75,263.87) scale(0.9690,1)" font-family='"Liberation Sans", sans-serif' font-size="25.09" stroke="#000" stroke-width="0.35" stroke-linejoin="round">10</text><text transform="translate(994.41,245.46) scale(1.0274,1)" font-family='"Liberation Sans", sans-serif' font-size="16.61" stroke="#000" stroke-width="0.35" stroke-linejoin="round">-3</text>
<text transform="translate(1404.72,263.87) scale(0.9850,1)" font-family='"Liberation Sans", sans-serif' font-size="25.09" stroke="#000" stroke-width="0.35" stroke-linejoin="round">10</text><text transform="translate(1430.87,244.92) scale(1.0187,1)" font-family='"Liberation Sans", sans-serif' font-size="17.09" stroke="#000" stroke-width="0.35" stroke-linejoin="round">17</text>
<text transform="translate(969.75,335.87) scale(0.9690,1)" font-family='"Liberation Sans", sans-serif' font-size="25.09" stroke="#000" stroke-width="0.35" stroke-linejoin="round">10</text><text transform="translate(994.42,317.62) scale(0.9800,1)" font-family='"Liberation Sans", sans-serif' font-size="17.09" stroke="#000" stroke-width="0.35" stroke-linejoin="round">-4</text>
<text transform="translate(1404.72,335.87) scale(0.9850,1)" font-family='"Liberation Sans", sans-serif' font-size="25.09" stroke="#000" stroke-width="0.35" stroke-linejoin="round">10</text><text transform="translate(1430.88,316.76) scale(1.0405,1)" font-family='"Liberation Sans", sans-serif' font-size="16.61" stroke="#000" stroke-width="0.35" stroke-linejoin="round">16</text>
<text transform="translate(969.75,407.87) scale(0.9690,1)" font-family='"Liberation Sans", sans-serif' font-size="25.09" stroke="#000" stroke-width="0.35" stroke-linejoin="round">10</text><text transform="translate(994.41,389.46) scale(1.0097,1)" font-family='"Liberation Sans", sans-serif' font-size="16.85" stroke="#000" stroke-width="0.35" stroke-linejoin="round">-5</text>
<text transform="translate(1404.72,407.87) scale(0.9850,1)" font-family='"Liberation Sans", sans-serif' font-size="25.09" stroke="#000" stroke-width="0.35" stroke-linejoin="round">10</text><text transform="translate(1430.88,388.76) scale(1.0232,1)" font-family='"Liberation Sans", sans-serif' font-size="16.85" stroke="#000" stroke-width="0.35" stroke-linejoin="round">15</text>
<text transform="translate(969.75,479.87) scale(0.9690,1)" font-family='"Liberation Sans", sans-serif' font-size="25.09" stroke="#000" stroke-width="0.35" stroke-linejoin="round">10</text><text transform="translate(994.41,461.46) scale(1.0274,1)" font-family='"Liberation Sans", sans-serif' font-size="16.61" stroke="#000" stroke-width="0.35" stroke-linejoin="round">-6</text>
<text transform="translate(1404.72,479.87) scale(0.9850,1)" font-family='"Liberation Sans", sans-serif' font-size="25.09" stroke="#000" stroke-width="0.35" stroke-linejoin="round">10</text><text transform="translate(1430.90,460.93)" font-family='"Liberation Sans", sans-serif' font-size="17.09" stroke="#000" stroke-width="0.35" stroke-linejoin="round">14</text>
<text transform="translate(1022.05,505.17) scale(1.0168,1)" font-family='"Liberation Sans", sans-serif' font-size="25.23" stroke="#000" stroke-width="0.35" stroke-linejoin="round">0</text>
<text transform="translate(1099.09,505.17) scale(0.9759,1)" font-family='"Liberation Sans", sans-serif' font-size="25.23" stroke="#000" stroke-width="0.35" stroke-linejoin="round">500</text>
<text transform="translate(1183.39,505.17) scale(0.9421,1)" font-family='"Liberation Sans", sans-serif' font-size="25.23" stroke="#000" stroke-width="0.35" stroke-linejoin="round">1000</text>
<text transform="translate(1272.80,505.17) scale(0.9364,1)" font-family='"Liberation Sans", sans-serif' font-size="25.23" stroke="#000" stroke-width="0.35" stroke-linejoin="round">1500</text>
<text transform="translate(1359.99,505.17) scale(0.9403,1)" font-family='"Liberation Sans", sans-serif' font-size="25.23" stroke="#000" stroke-width="0.35" stroke-linejoin="round">2000</text>
<text transform="translate(1167.02,535.16) scale(0.9790,1)" font-family='"Liberation Sans", sans-serif' font-size="25.36" stroke="#000" stroke-width="0.35" stroke-linejoin="round">delay / ps</text>
<text transform="translate(950.26,305.94) rotate(-90)" font-family='"Liberation Sans", sans-serif' font-size="26.19" stroke="#000" stroke-width="0.35" stroke-linejoin="round">dT/T</text>
<text transform="translate(1472.56,450.45) rotate(-90) scale(1.0435,1)" font-family='"Liberation Sans", sans-serif' font-size="25.36" stroke="#000" stroke-width="0.35" stroke-linejoin="round">carrier concentration (cm</text><text transform="translate(1464.85,158.95) rotate(-90) scale(1.0562,1)" font-family='"Liberation Sans", sans-serif' font-size="17.46" stroke="#000" stroke-width="0.35" stroke-linejoin="round">-3</text><text transform="translate(1472.56,142.63) rotate(-90) scale(1.0638,1)" font-family='"Liberation Sans", sans-serif' font-size="25.36" stroke="#000" stroke-width="0.35" stroke-linejoin="round">)</text>
<text transform="translate(1120.88,265.05) rotate(-90) scale(1.1592,1)" font-family='"Liberation Serif", serif' font-size="20.77" stroke="#000" stroke-width="0.3" stroke-linejoin="round">Wavelength/nm</text>
<text transform="translate(1129.01,138.43) scale(1.1568,1)" font-family='"Liberation Serif", serif' font-size="21.78" stroke="#000" stroke-width="0.3" stroke-linejoin="round">800</text>
<text transform="translate(1128.28,196.23) scale(1.1796,1)" font-family='"Liberation Serif", serif' font-size="21.78" stroke="#000" stroke-width="0.3" stroke-linejoin="round">700</text>
<text transform="translate(1128.88,250.83) scale(1.1609,1)" font-family='"Liberation Serif", serif' font-size="21.78" stroke="#000" stroke-width="0.3" stroke-linejoin="round">600</text>
<text transform="translate(1164.32,295.05) scale(1.0256,1)" font-family='"Liberation Serif", serif' font-size="23.79" stroke="#000" stroke-width="0.3" stroke-linejoin="round">1</text>
<text transform="translate(1226.43,295.21) scale(1.0637,1)" font-family='"Liberation Serif", serif' font-size="23.85" stroke="#000" stroke-width="0.3" stroke-linejoin="round">10</text>
<text transform="translate(1285.24,295.21) scale(1.0611,1)" font-family='"Liberation Serif", serif' font-size="23.85" stroke="#000" stroke-width="0.3" stroke-linejoin="round">100</text>
<text transform="translate(1340.78,295.21) scale(1.0375,1)" font-family='"Liberation Serif", serif' font-size="23.85" stroke="#000" stroke-width="0.3" stroke-linejoin="round">1000</text>
<text transform="translate(1257.79,319.12) scale(1.0121,1)" font-family='"Liberation Serif", serif' font-size="23.85" stroke="#000" stroke-width="0.3" stroke-linejoin="round">Delay / ps</text>
<path d="M1168.6,130.3 h2 M1168.6,159 h2 M1168.6,187.9 h2 M1168.6,216.7 h2 M1168.6,245.5 h2" stroke="#000" stroke-width="1" fill="none"/>
</g>
</svg></body></html>
